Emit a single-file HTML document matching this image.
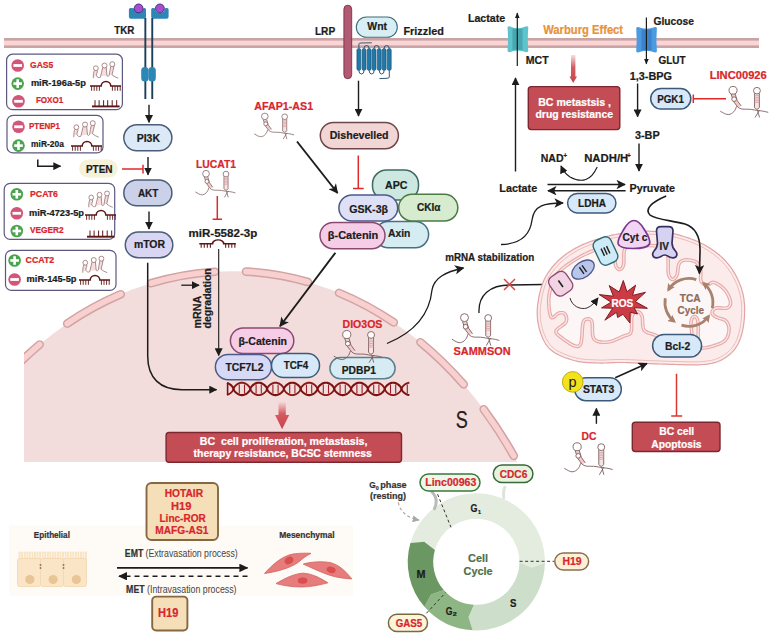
<!DOCTYPE html>
<html><head><meta charset="utf-8">
<style>
html,body{margin:0;padding:0;background:#fff;width:773px;height:636px;overflow:hidden}
svg{display:block}
text{white-space:pre;font-family:"Liberation Sans",sans-serif;font-weight:bold;fill:#1c1c1c;stroke:#1c1c1c;stroke-width:0.22px}
.r{fill:#d8262c;stroke:#d8262c}
.w{fill:#fff;stroke:#fff}
.n{font-weight:normal;stroke-width:0}
</style></head><body>
<svg width="773" height="636" viewBox="0 0 773 636">

<defs>
 <marker id="ah" viewBox="0 0 10 10" refX="9" refY="5" markerWidth="8" markerHeight="8" markerUnits="userSpaceOnUse" orient="auto">
  <path d="M0,0 L10,5 L0,10 Z" fill="#1c1c1c"/>
 </marker>
 <marker id="ah2" viewBox="0 0 10 10" refX="9" refY="5" markerWidth="10" markerHeight="9.5" markerUnits="userSpaceOnUse" orient="auto">
  <path d="M0,0 L10,5 L0,10 L2.5,5 Z" fill="#1c1c1c"/>
 </marker>
 <marker id="ah3" viewBox="0 0 10 10" refX="9" refY="5" markerWidth="9" markerHeight="8.5" markerUnits="userSpaceOnUse" orient="auto" preserveAspectRatio="none">
  <path d="M0,0 L10,5 L0,10 Z" fill="#1c1c1c"/>
 </marker>
 <marker id="ahg" viewBox="0 0 10 10" refX="9" refY="5" markerWidth="7" markerHeight="7" markerUnits="userSpaceOnUse" orient="auto">
  <path d="M0,0 L10,5 L0,10 Z" fill="#a8a8a8"/>
 </marker>
 <marker id="ahb" viewBox="0 0 10 10" refX="7" refY="5" markerWidth="8" markerHeight="8" markerUnits="userSpaceOnUse" orient="auto">
  <path d="M0,0 L10,5 L0,10 L2,5 Z" fill="#a8826c"/>
 </marker>
 <marker id="aht" viewBox="0 0 10 10" refX="9" refY="5" markerWidth="6" markerHeight="5" markerUnits="userSpaceOnUse" orient="auto" preserveAspectRatio="none">
  <path d="M0,0 L10,5 L0,10 Z" fill="#1c1c1c"/>
 </marker>
 <linearGradient id="rg" x1="0" y1="0" x2="0" y2="1">
  <stop offset="0" stop-color="#f6e0e0"/><stop offset="0.45" stop-color="#d45a60"/><stop offset="1" stop-color="#c8444c"/>
 </linearGradient>
 <symbol id="lnc" preserveAspectRatio="none" viewBox="0 0 50 33" overflow="visible">
  <g fill="none" stroke="#7a5a5a" stroke-width="0.9">
   <path d="M11.2,8.6 L14,17 L18.3,22.8 L21.6,21.4 L17.6,15.8 L15.4,8.4 Z" fill="#f2cccc" stroke="none"/>
   <path d="M0.3,27 C3,28.5 6,31 9,30.6 C13,30 16,26 16.8,21.8"/>
   <path d="M11.2,8.6 L14,17 L18.3,22.8"/>
   <path d="M15.4,8.4 L17.6,15.8 L21.6,21.4"/>
   <circle cx="13.3" cy="4.8" r="4.1" fill="#fff"/>
   <circle cx="14.4" cy="14.2" r="2.4" fill="#fff"/>
   <path d="M18.3,22.8 C21,25 23.5,25 27,24.9 C31,24.8 34,25.5 37.3,26.2"/>
   <path d="M35.2,8 V23 Q37.7,27.2 40.2,23 V8" fill="#f6e4e4"/>
   <path d="M35.2,10.5h5M35.2,12.3h5M35.2,14.1h5M35.2,15.9h5M35.2,17.7h5" stroke="#d49a9a" stroke-width="0.8"/>
   <circle cx="37.7" cy="5.2" r="3.5" fill="#fff"/>
   <path d="M37.3,26.2 C40,26.5 44,26.6 49.2,28.3"/>
   <path d="M35.8,33.7 L40.3,25.8 M40.4,33.7 L38.3,26.3"/>
  </g>
 </symbol>
 <symbol id="hp3" preserveAspectRatio="none" viewBox="0 0 26 17" overflow="visible">
  <path d="M1.9,9.3 L5.1,9.3 L4.2,14.8 L1,16 Z M8.6,15.5 L10.6,6.4 L14.3,6.3 L15,14.8 Z M17.4,14 L18.9,5.3 L22.3,4.9 L20.3,13.6 Z" fill="#f6dddd"/>
  <g fill="none" stroke="#8c6060" stroke-width="0.75">
   <circle cx="3.5" cy="7" r="2.5"/><circle cx="12.5" cy="4.2" r="2.6"/><circle cx="20.6" cy="2.8" r="2.6"/>
   <path d="M0.9,17.4 C0.6,14 1.2,11 1.9,9.3"/>
   <path d="M5.1,9.3 C5.5,11.5 3.5,13 4.2,14.8 C4.8,16.5 6.5,17.2 8.2,16.4 C9,13 9.8,9.5 10.6,6.4"/>
   <path d="M14.3,6.3 C14.5,9.5 14.8,12.5 15.1,15 C15.8,15.8 16.8,15.6 17.3,14.5 C17.8,11 18.4,8 18.9,5.3"/>
   <path d="M22.3,4.9 C21.8,8 21,11 20.2,13.8 C22,15.5 24.5,16.5 26.8,17.4"/>
  </g>
 </symbol>
 <symbol id="dup" preserveAspectRatio="none" viewBox="0 0 31 10" overflow="visible">
  <g stroke="#5c1616" fill="none">
   <path d="M0,5 H11.2 A4.8,4.6 0 0 1 20.8,5 H31" stroke-width="1.5"/>
   <path d="M1.6,5v4.8M4.2,5v4.8M6.8,5v4.8M9.4,5v4.8M22.4,5v4.8M25,5v4.8M27.6,5v4.8M30.2,5v4.8" stroke-width="0.9"/>
  </g>
 </symbol>
 <symbol id="comb" preserveAspectRatio="none" viewBox="0 0 28 7" overflow="visible">
  <g stroke="#5c1616">
   <path d="M0,6.2 H27.6" stroke-width="1.9"/>
   <path d="M3,0v6M7.1,0v6M11.6,0v6M15.7,0v6M20.2,0v6M24.7,0v6" stroke-width="1"/>
  </g>
 </symbol>
 <symbol id="minus" viewBox="-6.5 -6.5 13 13" overflow="visible">
  <circle r="6.3" fill="#d4557a"/><rect x="-4.3" y="-1.4" width="8.6" height="2.8" fill="#fff"/>
 </symbol>
 <symbol id="plus" viewBox="-6.5 -6.5 13 13" overflow="visible">
  <circle r="6.3" fill="#4aa44e"/><rect x="-4.3" y="-1.3" width="8.6" height="2.6" fill="#fff"/><rect x="-1.3" y="-4.3" width="2.6" height="8.6" fill="#fff"/>
 </symbol>
 <path id="caps" d="M18.9,363.4 A346.4,438.6 0 0 1 39.7,344.5 M67.2,323.6 A346.4,438.6 0 0 1 120.8,294.2 M151.0,283.2 A346.4,438.6 0 0 1 215.0,271.7 M246.0,271.6 A346.4,438.6 0 0 1 307.9,282.0 M339.0,292.9 A346.4,438.6 0 0 1 393.8,322.4 M420.4,342.2 A346.4,438.6 0 0 1 463.7,384.4 M483.7,409.3 A346.4,438.6 0 0 1 513.8,455.9"/>
 <clipPath id="nucclip"><rect x="24" y="0" width="760" height="462"/></clipPath>
</defs>

<!-- ================= NUCLEUS ================= -->
<g clip-path="url(#nucclip)">
 <ellipse cx="231.4" cy="709.8" rx="346.4" ry="438.6" fill="#f3dcdc"/>
 <g fill="none" stroke-linecap="round">
  <use href="#caps" stroke="#d2a3a3" stroke-width="8.6"/>
  <use href="#caps" stroke="#f8d0d0" stroke-width="5.6"/>
 </g>
</g>
<!-- ================= MEMBRANE ================= -->
<rect x="4" y="38" width="755" height="10" fill="#c9a4a4"/>
<rect x="4" y="40.6" width="755" height="4.8" fill="#fbd5d5"/>

<!-- ================= LEFT BOXES ================= -->
<g fill="#fff" stroke="#5c5880" stroke-width="1.2">
 <rect x="6.6" y="54.2" width="115.8" height="55.5" rx="6"/>
 <rect x="7" y="115.4" width="96" height="37.5" rx="6"/>
 <rect x="4.2" y="183.4" width="110.5" height="56" rx="6"/>
 <rect x="5.5" y="250.4" width="110.5" height="40" rx="6"/>
</g>
<use href="#minus" x="11.2" y="59" width="13" height="13"/>
<use href="#plus" x="11.2" y="77.1" width="13" height="13"/>
<use href="#minus" x="12" y="94.8" width="13" height="13"/>
<use href="#hp3" x="92.5" y="61.5" width="25" height="16.3"/>
<use href="#dup" x="90" y="81" width="31" height="10"/>
<use href="#comb" x="92" y="100.2" width="28" height="7"/>
<use href="#minus" x="12" y="120.3" width="13" height="13"/>
<use href="#plus" x="12" y="139.1" width="13" height="13"/>
<use href="#hp3" x="73" y="120.5" width="25" height="16.3"/>
<use href="#dup" x="71" y="141" width="31" height="10"/>
<use href="#plus" x="10.3" y="187.8" width="13" height="13"/>
<use href="#minus" x="10.3" y="206.8" width="13" height="13"/>
<use href="#plus" x="10.3" y="224.5" width="13" height="13"/>
<use href="#hp3" x="88" y="190.8" width="24" height="16.2"/>
<use href="#dup" x="85" y="210" width="31" height="10"/>
<use href="#comb" x="87" y="230.5" width="28" height="7"/>
<use href="#plus" x="8.1" y="254" width="13" height="13"/>
<use href="#minus" x="8.1" y="273" width="13" height="13"/>
<use href="#hp3" x="82" y="256" width="24.5" height="16.3"/>
<use href="#dup" x="79" y="275" width="31" height="10"/>

<!-- PTEN -->
<path d="M37.8,159.6 V166.2 H60.5" fill="none" stroke="#1c1c1c" stroke-width="1.5" marker-end="url(#ah)"/>
<rect x="79" y="159.6" width="38.7" height="18" rx="9" fill="#f6f2da"/>
<path d="M122,169 H143 M143,164.7 V173.5" stroke="#e02a2a" stroke-width="1.5" fill="none"/>

<!-- ================= TKR / PI3K ================= -->
<g fill="#2c86b6">
 <path d="M128.9,9.5 Q128.9,8 130.5,8 L133.8,8.2 A4.9,4.9 0 0 0 143.4,8.2 L144.6,8 Q146,8 146,9.5 V16.8 Q146,18.8 144,18.8 H130.9 Q128.9,18.8 128.9,16.8 Z"/>
 <path d="M151.2,9.5 Q151.2,8 152.6,8 L155,8.2 A4.9,4.9 0 0 0 164.8,8.2 L167,8 Q168.6,8 168.6,9.5 V16.8 Q168.6,18.8 166.6,18.8 H153.2 Q151.2,18.8 151.2,16.8 Z"/>
</g>
<circle cx="138.6" cy="8.4" r="4.4" fill="#a24fd2" stroke="#4a2466" stroke-width="0.9"/>
<circle cx="159.9" cy="8.4" r="4.4" fill="#a24fd2" stroke="#4a2466" stroke-width="0.9"/>
<rect x="144.4" y="18" width="1.9" height="81" fill="#1c3f5a"/>
<rect x="151.3" y="18" width="1.9" height="81" fill="#1c3f5a"/>
<rect x="141.2" y="66.9" width="7.4" height="14.5" rx="3.5" fill="#2c86b6"/>
<rect x="148.4" y="66.9" width="7.4" height="14.5" rx="3.5" fill="#2c86b6"/>
<path d="M149,104.7 V122.3" stroke="#1c1c1c" stroke-width="1.4" marker-end="url(#ah)"/>
<rect x="123.8" y="124.8" width="48.1" height="26" rx="13" fill="#dce9f7" stroke="#4b5d78" stroke-width="1.5"/>
<path d="M148,157 V174.7" stroke="#1c1c1c" stroke-width="1.4" marker-end="url(#ah)"/>
<rect x="123.8" y="180" width="48.1" height="25.8" rx="12.9" fill="#ccd1ea" stroke="#4b5d78" stroke-width="1.5"/>
<path d="M149,211.5 V229" stroke="#1c1c1c" stroke-width="1.4" marker-end="url(#ah)"/>
<rect x="125.3" y="232.1" width="47.5" height="25.6" rx="12.8" fill="#d8d6f3" stroke="#4b5d78" stroke-width="1.5"/>
<path d="M147.7,262.7 V356 C147.7,378 160,389.7 182,389.7 H216.5" fill="none" stroke="#1c1c1c" stroke-width="1.5" marker-end="url(#ah)"/>
<use href="#lnc" x="195.1" y="169.8" width="41" height="27"/>
<path d="M217.3,196 V219.3 M212.6,219.3 H222" stroke="#e02a2a" stroke-width="1.5" fill="none"/>
<use href="#dup" x="199.3" y="239.5" width="36.5" height="8.5"/>
<path d="M218.7,249 V355.5" stroke="#1c1c1c" stroke-width="1.1" marker-end="url(#ah)"/>
<path d="M181.3,285.2 H199" stroke="#1c1c1c" stroke-width="1.3" marker-end="url(#ah)"/>

<!-- ================= WNT ================= -->
<rect x="343.9" y="5.2" width="7.8" height="73.5" rx="3.9" fill="#b25a74" stroke="#7a3048" stroke-width="0.9"/>
<rect x="356.3" y="17" width="41" height="20.3" rx="10.1" fill="#d8eef5" stroke="#3d6b78" stroke-width="1.1"/>
<g fill="none" stroke="#1a4a6a" stroke-width="0.9"><path d="M358.9,70.5 Q358.9,74 361.5,74 Q364,74 364,70.5 M369.2,70.5 Q369.2,74 371.7,74 Q374.1,74 374.1,70.5 M379.3,70.5 Q379.3,74 381.7,74 Q384.1,74 384.1,70.5 M364,48.4 Q364,45.5 366.5,45.5 Q369.1,45.5 369.1,48.4 M374.1,48.4 Q374.1,45.5 376.6,45.5 Q379.2,45.5 379.2,48.4 M384.1,48.4 Q384.1,45.5 386.7,45.5 Q389.2,45.5 389.2,48.4 M358.9,48.4 V43.8 Q359,43 361,43 L371.8,42.8 M389.3,70.5 V77 Q389.3,78.2 387,78.3 L379.4,78.6"/></g>
<g fill="#1f79aa" stroke="#1a4a6a" stroke-width="0.6"><rect x="356.9" y="48.4" width="3.9" height="22.1" rx="1.95"/><rect x="362.1" y="48.4" width="3.9" height="22.1" rx="1.95"/><rect x="367.2" y="48.4" width="3.9" height="22.1" rx="1.95"/><rect x="372.1" y="48.4" width="3.9" height="22.1" rx="1.95"/><rect x="377.3" y="48.4" width="3.9" height="22.1" rx="1.95"/><rect x="382.2" y="48.4" width="3.9" height="22.1" rx="1.95"/><rect x="387.3" y="48.4" width="3.9" height="22.1" rx="1.95"/></g>
<path d="M358.5,80.7 V116" stroke="#1c1c1c" stroke-width="1.4" marker-end="url(#ah)"/>
<use href="#lnc" x="254" y="112.6" width="40.7" height="26"/>
<rect x="320.3" y="122.4" width="78.1" height="26.3" rx="13.1" fill="#f2d5d5" stroke="#6e4848" stroke-width="1.5"/>
<path d="M358.3,155.5 V188.5 M353,188.5 H363.7" stroke="#e02a2a" stroke-width="1.5" fill="none"/>
<path d="M297,141.5 L337.5,193" stroke="#1c1c1c" stroke-width="1.9" marker-end="url(#ah2)"/>
<rect x="372.5" y="170" width="46" height="30" rx="14" fill="#cde8e1" stroke="#3e6b60" stroke-width="1.5"/>
<rect x="375" y="221.5" width="53.6" height="26.2" rx="13.1" fill="#d6ecf3" stroke="#4a7080" stroke-width="1.5"/>
<rect x="398.7" y="194.3" width="59.1" height="26.7" rx="13.3" fill="#d7ecce" stroke="#4b7a45" stroke-width="1.5"/>
<rect x="338.9" y="195" width="58.8" height="26" rx="13" fill="#dee1f6" stroke="#4a5a8a" stroke-width="1.5"/>
<rect x="320" y="222.5" width="65" height="26.2" rx="13.1" fill="#f6cde6" stroke="#8a4a70" stroke-width="1.5"/>
<path d="M335.4,252.7 L280,326.3" stroke="#1c1c1c" stroke-width="1.9" marker-end="url(#ah2)"/>

<!-- ================= NUCLEAR ================= -->
<rect x="230.4" y="328.1" width="63.4" height="25.4" rx="12.7" fill="#f6cde6" stroke="#8a4a70" stroke-width="1.5"/>
<rect x="215.4" y="354.4" width="56.1" height="25.3" rx="12.6" fill="#d6d9f6" stroke="#4a5a8a" stroke-width="1.5"/>
<rect x="271.5" y="353.5" width="48" height="23.9" rx="11.9" fill="#d7e8f8" stroke="#3b5a7a" stroke-width="1.5"/>
<rect x="329.9" y="357.6" width="65.2" height="21.2" rx="10.6" fill="#d6ecf2" stroke="#5a8090" stroke-width="1.5"/>
<use href="#lnc" x="333.5" y="329.9" width="49.8" height="32"/>
<path d="M239.3,384.4V393.4M244.5,384.4V393.4M256.1,384.4V393.4M261.3,384.4V393.4M272.9,384.4V393.4M278.1,384.4V393.4M289.7,384.4V393.4M294.9,384.4V393.4M306.5,384.4V393.4M311.7,384.4V393.4M323.3,384.4V393.4M328.5,384.4V393.4M340.1,384.4V393.4M345.3,384.4V393.4M356.9,384.4V393.4M362.1,384.4V393.4M373.7,384.4V393.4M378.9,384.4V393.4M390.5,384.4V393.4M395.7,384.4V393.4M407.3,384.4V393.4" stroke="#9a2020" stroke-width="1.1"/>
<path d="M227.00,394.85 L227.35,394.74 L227.70,394.62 L228.05,394.49 L228.40,394.33 L228.75,394.16 L229.10,393.97 L229.45,393.76 L229.80,393.53 L230.15,393.28 L230.50,393.01 L230.85,392.72 L231.20,392.41 L231.55,392.07 L231.90,391.70 L232.25,391.30 L232.60,390.84 L232.95,390.31 L233.30,389.63 L233.65,388.29 L234.00,387.57 L234.35,387.03 L234.70,386.57 L235.05,386.15 L235.40,385.78 L235.75,385.44 L236.10,385.12 L236.45,384.83 L236.80,384.56 L237.15,384.30 L237.50,384.07 L237.85,383.86 L238.20,383.67 L238.55,383.49 L238.90,383.34 L239.25,383.20 L239.60,383.07 L239.95,382.97 L240.30,382.88 L240.65,382.81 L241.00,382.76 L241.35,382.72 L241.70,382.70 L242.05,382.70 L242.40,382.72 L242.75,382.75 L243.10,382.80 L243.45,382.87 L243.80,382.95 L244.15,383.06 L244.50,383.18 L244.85,383.31 L245.20,383.47 L245.55,383.64 L245.90,383.83 L246.25,384.04 L246.60,384.27 L246.95,384.52 L247.30,384.79 L247.65,385.08 L248.00,385.39 L248.35,385.73 L248.70,386.10 L249.05,386.50 L249.40,386.96 L249.75,387.49 L250.10,388.17 L250.45,389.51 L250.80,390.23 L251.15,390.77 L251.50,391.23 L251.85,391.65 L252.20,392.02 L252.55,392.36 L252.90,392.68 L253.25,392.97 L253.60,393.24 L253.95,393.50 L254.30,393.73 L254.65,393.94 L255.00,394.13 L255.35,394.31 L255.70,394.46 L256.05,394.60 L256.40,394.73 L256.75,394.83 L257.10,394.92 L257.45,394.99 L257.80,395.04 L258.15,395.08 L258.50,395.10 L258.85,395.10 L259.20,395.08 L259.55,395.05 L259.90,395.00 L260.25,394.93 L260.60,394.85 L260.95,394.74 L261.30,394.62 L261.65,394.49 L262.00,394.33 L262.35,394.16 L262.70,393.97 L263.05,393.76 L263.40,393.53 L263.75,393.28 L264.10,393.01 L264.45,392.72 L264.80,392.41 L265.15,392.07 L265.50,391.70 L265.85,391.30 L266.20,390.84 L266.55,390.31 L266.90,389.63 L267.25,388.29 L267.60,387.57 L267.95,387.03 L268.30,386.57 L268.65,386.15 L269.00,385.78 L269.35,385.44 L269.70,385.12 L270.05,384.83 L270.40,384.56 L270.75,384.30 L271.10,384.07 L271.45,383.86 L271.80,383.67 L272.15,383.49 L272.50,383.34 L272.85,383.20 L273.20,383.07 L273.55,382.97 L273.90,382.88 L274.25,382.81 L274.60,382.76 L274.95,382.72 L275.30,382.70 L275.65,382.70 L276.00,382.72 L276.35,382.75 L276.70,382.80 L277.05,382.87 L277.40,382.95 L277.75,383.06 L278.10,383.18 L278.45,383.31 L278.80,383.47 L279.15,383.64 L279.50,383.83 L279.85,384.04 L280.20,384.27 L280.55,384.52 L280.90,384.79 L281.25,385.08 L281.60,385.39 L281.95,385.73 L282.30,386.10 L282.65,386.50 L283.00,386.96 L283.35,387.49 L283.70,388.17 L284.05,389.51 L284.40,390.23 L284.75,390.77 L285.10,391.23 L285.45,391.65 L285.80,392.02 L286.15,392.36 L286.50,392.68 L286.85,392.97 L287.20,393.24 L287.55,393.50 L287.90,393.73 L288.25,393.94 L288.60,394.13 L288.95,394.31 L289.30,394.46 L289.65,394.60 L290.00,394.73 L290.35,394.83 L290.70,394.92 L291.05,394.99 L291.40,395.04 L291.75,395.08 L292.10,395.10 L292.45,395.10 L292.80,395.08 L293.15,395.05 L293.50,395.00 L293.85,394.93 L294.20,394.85 L294.55,394.74 L294.90,394.62 L295.25,394.49 L295.60,394.33 L295.95,394.16 L296.30,393.97 L296.65,393.76 L297.00,393.53 L297.35,393.28 L297.70,393.01 L298.05,392.72 L298.40,392.41 L298.75,392.07 L299.10,391.70 L299.45,391.30 L299.80,390.84 L300.15,390.31 L300.50,389.63 L300.85,388.29 L301.20,387.57 L301.55,387.03 L301.90,386.57 L302.25,386.15 L302.60,385.78 L302.95,385.44 L303.30,385.12 L303.65,384.83 L304.00,384.56 L304.35,384.30 L304.70,384.07 L305.05,383.86 L305.40,383.67 L305.75,383.49 L306.10,383.34 L306.45,383.20 L306.80,383.07 L307.15,382.97 L307.50,382.88 L307.85,382.81 L308.20,382.76 L308.55,382.72 L308.90,382.70 L309.25,382.70 L309.60,382.72 L309.95,382.75 L310.30,382.80 L310.65,382.87 L311.00,382.95 L311.35,383.06 L311.70,383.18 L312.05,383.31 L312.40,383.47 L312.75,383.64 L313.10,383.83 L313.45,384.04 L313.80,384.27 L314.15,384.52 L314.50,384.79 L314.85,385.08 L315.20,385.39 L315.55,385.73 L315.90,386.10 L316.25,386.50 L316.60,386.96 L316.95,387.49 L317.30,388.17 L317.65,389.51 L318.00,390.23 L318.35,390.77 L318.70,391.23 L319.05,391.65 L319.40,392.02 L319.75,392.36 L320.10,392.68 L320.45,392.97 L320.80,393.24 L321.15,393.50 L321.50,393.73 L321.85,393.94 L322.20,394.13 L322.55,394.31 L322.90,394.46 L323.25,394.60 L323.60,394.73 L323.95,394.83 L324.30,394.92 L324.65,394.99 L325.00,395.04 L325.35,395.08 L325.70,395.10 L326.05,395.10 L326.40,395.08 L326.75,395.05 L327.10,395.00 L327.45,394.93 L327.80,394.85 L328.15,394.74 L328.50,394.62 L328.85,394.49 L329.20,394.33 L329.55,394.16 L329.90,393.97 L330.25,393.76 L330.60,393.53 L330.95,393.28 L331.30,393.01 L331.65,392.72 L332.00,392.41 L332.35,392.07 L332.70,391.70 L333.05,391.30 L333.40,390.84 L333.75,390.31 L334.10,389.63 L334.45,388.29 L334.80,387.57 L335.15,387.03 L335.50,386.57 L335.85,386.15 L336.20,385.78 L336.55,385.44 L336.90,385.12 L337.25,384.83 L337.60,384.56 L337.95,384.30 L338.30,384.07 L338.65,383.86 L339.00,383.67 L339.35,383.49 L339.70,383.34 L340.05,383.20 L340.40,383.07 L340.75,382.97 L341.10,382.88 L341.45,382.81 L341.80,382.76 L342.15,382.72 L342.50,382.70 L342.85,382.70 L343.20,382.72 L343.55,382.75 L343.90,382.80 L344.25,382.87 L344.60,382.95 L344.95,383.06 L345.30,383.18 L345.65,383.31 L346.00,383.47 L346.35,383.64 L346.70,383.83 L347.05,384.04 L347.40,384.27 L347.75,384.52 L348.10,384.79 L348.45,385.08 L348.80,385.39 L349.15,385.73 L349.50,386.10 L349.85,386.50 L350.20,386.96 L350.55,387.49 L350.90,388.17 L351.25,389.51 L351.60,390.23 L351.95,390.77 L352.30,391.23 L352.65,391.65 L353.00,392.02 L353.35,392.36 L353.70,392.68 L354.05,392.97 L354.40,393.24 L354.75,393.50 L355.10,393.73 L355.45,393.94 L355.80,394.13 L356.15,394.31 L356.50,394.46 L356.85,394.60 L357.20,394.73 L357.55,394.83 L357.90,394.92 L358.25,394.99 L358.60,395.04 L358.95,395.08 L359.30,395.10 L359.65,395.10 L360.00,395.08 L360.35,395.05 L360.70,395.00 L361.05,394.93 L361.40,394.85 L361.75,394.74 L362.10,394.62 L362.45,394.49 L362.80,394.33 L363.15,394.16 L363.50,393.97 L363.85,393.76 L364.20,393.53 L364.55,393.28 L364.90,393.01 L365.25,392.72 L365.60,392.41 L365.95,392.07 L366.30,391.70 L366.65,391.30 L367.00,390.84 L367.35,390.31 L367.70,389.63 L368.05,388.29 L368.40,387.57 L368.75,387.03 L369.10,386.57 L369.45,386.15 L369.80,385.78 L370.15,385.44 L370.50,385.12 L370.85,384.83 L371.20,384.56 L371.55,384.30 L371.90,384.07 L372.25,383.86 L372.60,383.67 L372.95,383.49 L373.30,383.34 L373.65,383.20 L374.00,383.07 L374.35,382.97 L374.70,382.88 L375.05,382.81 L375.40,382.76 L375.75,382.72 L376.10,382.70 L376.45,382.70 L376.80,382.72 L377.15,382.75 L377.50,382.80 L377.85,382.87 L378.20,382.95 L378.55,383.06 L378.90,383.18 L379.25,383.31 L379.60,383.47 L379.95,383.64 L380.30,383.83 L380.65,384.04 L381.00,384.27 L381.35,384.52 L381.70,384.79 L382.05,385.08 L382.40,385.39 L382.75,385.73 L383.10,386.10 L383.45,386.50 L383.80,386.96 L384.15,387.49 L384.50,388.17 L384.85,389.51 L385.20,390.23 L385.55,390.77 L385.90,391.23 L386.25,391.65 L386.60,392.02 L386.95,392.36 L387.30,392.68 L387.65,392.97 L388.00,393.24 L388.35,393.50 L388.70,393.73 L389.05,393.94 L389.40,394.13 L389.75,394.31 L390.10,394.46 L390.45,394.60 L390.80,394.73 L391.15,394.83 L391.50,394.92 L391.85,394.99 L392.20,395.04 L392.55,395.08 L392.90,395.10 L393.25,395.10 L393.60,395.08 L393.95,395.05 L394.30,395.00 L394.65,394.93 L395.00,394.85 L395.35,394.74 L395.70,394.62 L396.05,394.49 L396.40,394.33 L396.75,394.16 L397.10,393.97 L397.45,393.76 L397.80,393.53 L398.15,393.28 L398.50,393.01 L398.85,392.72 L399.20,392.41 L399.55,392.07 L399.90,391.70 L400.25,391.30 L400.60,390.84 L400.95,390.31 L401.30,389.63 L401.65,388.29 L402.00,387.57 L402.35,387.03 L402.70,386.57 L403.05,386.15 L403.40,385.78 L403.75,385.44 L404.10,385.12 L404.45,384.83 L404.80,384.56 L405.15,384.30 L405.50,384.07 L405.85,383.86 L406.20,383.67 L406.55,383.49 L406.90,383.34 L407.25,383.20 L407.60,383.07 L407.95,382.97 L408.30,382.88 L408.65,382.81 L409.00,382.76 L409.35,382.72" fill="none" stroke="#8a1818" stroke-width="1.9"/>
<path d="M227.00,382.95 L227.35,383.06 L227.70,383.18 L228.05,383.31 L228.40,383.47 L228.75,383.64 L229.10,383.83 L229.45,384.04 L229.80,384.27 L230.15,384.52 L230.50,384.79 L230.85,385.08 L231.20,385.39 L231.55,385.73 L231.90,386.10 L232.25,386.50 L232.60,386.96 L232.95,387.49 L233.30,388.17 L233.65,389.51 L234.00,390.23 L234.35,390.77 L234.70,391.23 L235.05,391.65 L235.40,392.02 L235.75,392.36 L236.10,392.68 L236.45,392.97 L236.80,393.24 L237.15,393.50 L237.50,393.73 L237.85,393.94 L238.20,394.13 L238.55,394.31 L238.90,394.46 L239.25,394.60 L239.60,394.73 L239.95,394.83 L240.30,394.92 L240.65,394.99 L241.00,395.04 L241.35,395.08 L241.70,395.10 L242.05,395.10 L242.40,395.08 L242.75,395.05 L243.10,395.00 L243.45,394.93 L243.80,394.85 L244.15,394.74 L244.50,394.62 L244.85,394.49 L245.20,394.33 L245.55,394.16 L245.90,393.97 L246.25,393.76 L246.60,393.53 L246.95,393.28 L247.30,393.01 L247.65,392.72 L248.00,392.41 L248.35,392.07 L248.70,391.70 L249.05,391.30 L249.40,390.84 L249.75,390.31 L250.10,389.63 L250.45,388.29 L250.80,387.57 L251.15,387.03 L251.50,386.57 L251.85,386.15 L252.20,385.78 L252.55,385.44 L252.90,385.12 L253.25,384.83 L253.60,384.56 L253.95,384.30 L254.30,384.07 L254.65,383.86 L255.00,383.67 L255.35,383.49 L255.70,383.34 L256.05,383.20 L256.40,383.07 L256.75,382.97 L257.10,382.88 L257.45,382.81 L257.80,382.76 L258.15,382.72 L258.50,382.70 L258.85,382.70 L259.20,382.72 L259.55,382.75 L259.90,382.80 L260.25,382.87 L260.60,382.95 L260.95,383.06 L261.30,383.18 L261.65,383.31 L262.00,383.47 L262.35,383.64 L262.70,383.83 L263.05,384.04 L263.40,384.27 L263.75,384.52 L264.10,384.79 L264.45,385.08 L264.80,385.39 L265.15,385.73 L265.50,386.10 L265.85,386.50 L266.20,386.96 L266.55,387.49 L266.90,388.17 L267.25,389.51 L267.60,390.23 L267.95,390.77 L268.30,391.23 L268.65,391.65 L269.00,392.02 L269.35,392.36 L269.70,392.68 L270.05,392.97 L270.40,393.24 L270.75,393.50 L271.10,393.73 L271.45,393.94 L271.80,394.13 L272.15,394.31 L272.50,394.46 L272.85,394.60 L273.20,394.73 L273.55,394.83 L273.90,394.92 L274.25,394.99 L274.60,395.04 L274.95,395.08 L275.30,395.10 L275.65,395.10 L276.00,395.08 L276.35,395.05 L276.70,395.00 L277.05,394.93 L277.40,394.85 L277.75,394.74 L278.10,394.62 L278.45,394.49 L278.80,394.33 L279.15,394.16 L279.50,393.97 L279.85,393.76 L280.20,393.53 L280.55,393.28 L280.90,393.01 L281.25,392.72 L281.60,392.41 L281.95,392.07 L282.30,391.70 L282.65,391.30 L283.00,390.84 L283.35,390.31 L283.70,389.63 L284.05,388.29 L284.40,387.57 L284.75,387.03 L285.10,386.57 L285.45,386.15 L285.80,385.78 L286.15,385.44 L286.50,385.12 L286.85,384.83 L287.20,384.56 L287.55,384.30 L287.90,384.07 L288.25,383.86 L288.60,383.67 L288.95,383.49 L289.30,383.34 L289.65,383.20 L290.00,383.07 L290.35,382.97 L290.70,382.88 L291.05,382.81 L291.40,382.76 L291.75,382.72 L292.10,382.70 L292.45,382.70 L292.80,382.72 L293.15,382.75 L293.50,382.80 L293.85,382.87 L294.20,382.95 L294.55,383.06 L294.90,383.18 L295.25,383.31 L295.60,383.47 L295.95,383.64 L296.30,383.83 L296.65,384.04 L297.00,384.27 L297.35,384.52 L297.70,384.79 L298.05,385.08 L298.40,385.39 L298.75,385.73 L299.10,386.10 L299.45,386.50 L299.80,386.96 L300.15,387.49 L300.50,388.17 L300.85,389.51 L301.20,390.23 L301.55,390.77 L301.90,391.23 L302.25,391.65 L302.60,392.02 L302.95,392.36 L303.30,392.68 L303.65,392.97 L304.00,393.24 L304.35,393.50 L304.70,393.73 L305.05,393.94 L305.40,394.13 L305.75,394.31 L306.10,394.46 L306.45,394.60 L306.80,394.73 L307.15,394.83 L307.50,394.92 L307.85,394.99 L308.20,395.04 L308.55,395.08 L308.90,395.10 L309.25,395.10 L309.60,395.08 L309.95,395.05 L310.30,395.00 L310.65,394.93 L311.00,394.85 L311.35,394.74 L311.70,394.62 L312.05,394.49 L312.40,394.33 L312.75,394.16 L313.10,393.97 L313.45,393.76 L313.80,393.53 L314.15,393.28 L314.50,393.01 L314.85,392.72 L315.20,392.41 L315.55,392.07 L315.90,391.70 L316.25,391.30 L316.60,390.84 L316.95,390.31 L317.30,389.63 L317.65,388.29 L318.00,387.57 L318.35,387.03 L318.70,386.57 L319.05,386.15 L319.40,385.78 L319.75,385.44 L320.10,385.12 L320.45,384.83 L320.80,384.56 L321.15,384.30 L321.50,384.07 L321.85,383.86 L322.20,383.67 L322.55,383.49 L322.90,383.34 L323.25,383.20 L323.60,383.07 L323.95,382.97 L324.30,382.88 L324.65,382.81 L325.00,382.76 L325.35,382.72 L325.70,382.70 L326.05,382.70 L326.40,382.72 L326.75,382.75 L327.10,382.80 L327.45,382.87 L327.80,382.95 L328.15,383.06 L328.50,383.18 L328.85,383.31 L329.20,383.47 L329.55,383.64 L329.90,383.83 L330.25,384.04 L330.60,384.27 L330.95,384.52 L331.30,384.79 L331.65,385.08 L332.00,385.39 L332.35,385.73 L332.70,386.10 L333.05,386.50 L333.40,386.96 L333.75,387.49 L334.10,388.17 L334.45,389.51 L334.80,390.23 L335.15,390.77 L335.50,391.23 L335.85,391.65 L336.20,392.02 L336.55,392.36 L336.90,392.68 L337.25,392.97 L337.60,393.24 L337.95,393.50 L338.30,393.73 L338.65,393.94 L339.00,394.13 L339.35,394.31 L339.70,394.46 L340.05,394.60 L340.40,394.73 L340.75,394.83 L341.10,394.92 L341.45,394.99 L341.80,395.04 L342.15,395.08 L342.50,395.10 L342.85,395.10 L343.20,395.08 L343.55,395.05 L343.90,395.00 L344.25,394.93 L344.60,394.85 L344.95,394.74 L345.30,394.62 L345.65,394.49 L346.00,394.33 L346.35,394.16 L346.70,393.97 L347.05,393.76 L347.40,393.53 L347.75,393.28 L348.10,393.01 L348.45,392.72 L348.80,392.41 L349.15,392.07 L349.50,391.70 L349.85,391.30 L350.20,390.84 L350.55,390.31 L350.90,389.63 L351.25,388.29 L351.60,387.57 L351.95,387.03 L352.30,386.57 L352.65,386.15 L353.00,385.78 L353.35,385.44 L353.70,385.12 L354.05,384.83 L354.40,384.56 L354.75,384.30 L355.10,384.07 L355.45,383.86 L355.80,383.67 L356.15,383.49 L356.50,383.34 L356.85,383.20 L357.20,383.07 L357.55,382.97 L357.90,382.88 L358.25,382.81 L358.60,382.76 L358.95,382.72 L359.30,382.70 L359.65,382.70 L360.00,382.72 L360.35,382.75 L360.70,382.80 L361.05,382.87 L361.40,382.95 L361.75,383.06 L362.10,383.18 L362.45,383.31 L362.80,383.47 L363.15,383.64 L363.50,383.83 L363.85,384.04 L364.20,384.27 L364.55,384.52 L364.90,384.79 L365.25,385.08 L365.60,385.39 L365.95,385.73 L366.30,386.10 L366.65,386.50 L367.00,386.96 L367.35,387.49 L367.70,388.17 L368.05,389.51 L368.40,390.23 L368.75,390.77 L369.10,391.23 L369.45,391.65 L369.80,392.02 L370.15,392.36 L370.50,392.68 L370.85,392.97 L371.20,393.24 L371.55,393.50 L371.90,393.73 L372.25,393.94 L372.60,394.13 L372.95,394.31 L373.30,394.46 L373.65,394.60 L374.00,394.73 L374.35,394.83 L374.70,394.92 L375.05,394.99 L375.40,395.04 L375.75,395.08 L376.10,395.10 L376.45,395.10 L376.80,395.08 L377.15,395.05 L377.50,395.00 L377.85,394.93 L378.20,394.85 L378.55,394.74 L378.90,394.62 L379.25,394.49 L379.60,394.33 L379.95,394.16 L380.30,393.97 L380.65,393.76 L381.00,393.53 L381.35,393.28 L381.70,393.01 L382.05,392.72 L382.40,392.41 L382.75,392.07 L383.10,391.70 L383.45,391.30 L383.80,390.84 L384.15,390.31 L384.50,389.63 L384.85,388.29 L385.20,387.57 L385.55,387.03 L385.90,386.57 L386.25,386.15 L386.60,385.78 L386.95,385.44 L387.30,385.12 L387.65,384.83 L388.00,384.56 L388.35,384.30 L388.70,384.07 L389.05,383.86 L389.40,383.67 L389.75,383.49 L390.10,383.34 L390.45,383.20 L390.80,383.07 L391.15,382.97 L391.50,382.88 L391.85,382.81 L392.20,382.76 L392.55,382.72 L392.90,382.70 L393.25,382.70 L393.60,382.72 L393.95,382.75 L394.30,382.80 L394.65,382.87 L395.00,382.95 L395.35,383.06 L395.70,383.18 L396.05,383.31 L396.40,383.47 L396.75,383.64 L397.10,383.83 L397.45,384.04 L397.80,384.27 L398.15,384.52 L398.50,384.79 L398.85,385.08 L399.20,385.39 L399.55,385.73 L399.90,386.10 L400.25,386.50 L400.60,386.96 L400.95,387.49 L401.30,388.17 L401.65,389.51 L402.00,390.23 L402.35,390.77 L402.70,391.23 L403.05,391.65 L403.40,392.02 L403.75,392.36 L404.10,392.68 L404.45,392.97 L404.80,393.24 L405.15,393.50 L405.50,393.73 L405.85,393.94 L406.20,394.13 L406.55,394.31 L406.90,394.46 L407.25,394.60 L407.60,394.73 L407.95,394.83 L408.30,394.92 L408.65,394.99 L409.00,395.04 L409.35,395.08" fill="none" stroke="#7a1212" stroke-width="2.1"/>
<path d="M227.6,383 V395" stroke="#7a1212" stroke-width="1.6"/>
<path d="M278.5,401.3 H285.8 V415.1 H289.2 L282.1,429.3 L275.1,415.1 H278.5 Z" fill="url(#rg)"/>
<rect x="166.1" y="432.5" width="235.4" height="29.7" rx="3" fill="#c44d55" stroke="#7c2630" stroke-width="1.4"/>

<!-- ================= WARBURG ================= -->
<path d="M507.5,27.5 Q507.5,26.3 509.5,26.3 Q517.5,30 526.3,26.3 Q528.3,26.3 528.3,27.5 Q527.3,39 528.3,50.8 Q528.3,52.2 526.3,52.2 Q517.5,48.8 509.5,52.2 Q507.5,52.2 507.5,50.8 Q508.5,39 507.5,27.5 Z" fill="#5ec3cb"/>
<path d="M512.5,28.6 Q517.5,29.6 522.5,28.6 V50 Q517.5,49 512.5,50 Z" fill="#47a8b2"/>
<path d="M517.3,66 V13" stroke="#1c1c1c" stroke-width="1.2" marker-end="url(#aht)"/>
<path d="M571,55 H575.4 V76.4 H577 L573.2,83 L569.4,76.4 H571 Z" fill="url(#rg)"/>
<path d="M636.2,28.2 Q636.2,27 638.2,27 Q646.4,30.6 655,27 Q656.9,27 656.9,28.2 Q655.9,39.5 656.9,51.2 Q656.9,52.5 655,52.5 Q646.4,49 638.2,52.5 Q636.2,52.5 636.2,51.2 Q637.2,39.5 636.2,28.2 Z" fill="#4c9be0"/>
<path d="M641.5,29.2 Q646.4,30.3 651.5,29.2 V50.3 Q646.4,49.3 641.5,50.3 Z" fill="#3b83cc"/>
<path d="M646.4,17.6 V64" stroke="#1c1c1c" stroke-width="1.2" marker-end="url(#aht)"/>
<rect x="528.3" y="86.6" width="91.5" height="43" rx="3" fill="#c44d55" stroke="#7c2630" stroke-width="1.4"/>
<path d="M637.6,83.5 V116.6" stroke="#1c1c1c" stroke-width="1.4" marker-end="url(#ah)"/>
<rect x="650.7" y="88.4" width="40.1" height="20.6" rx="10.3" fill="#d7e8f8" stroke="#3b5a7a" stroke-width="1.5"/>
<path d="M726,98.7 H693.3 M693.3,94.4 V103" stroke="#e02a2a" stroke-width="1.5" fill="none"/>
<use href="#lnc" x="720" y="85.8" width="49" height="31"/>
<path d="M639,143.5 V171" stroke="#1c1c1c" stroke-width="1.4" marker-end="url(#ah)"/>
<path d="M515.5,171.5 V78" stroke="#1c1c1c" stroke-width="1.4" marker-end="url(#ah)"/>
<path d="M597.2,166.9 Q588,187 570,177 Q564,173 561,166" fill="none" stroke="#1c1c1c" stroke-width="1.1" marker-end="url(#ah)"/>
<path d="M547.5,184.5 H625" stroke="#1c1c1c" stroke-width="1.6" marker-end="url(#ah2)"/>
<path d="M625.6,190.7 H548" stroke="#1c1c1c" stroke-width="1.6" marker-end="url(#ah2)"/>
<rect x="567.6" y="193.4" width="48.3" height="19.5" rx="9.7" fill="#d7e8f8" stroke="#3b5a7a" stroke-width="1.5"/>
<path d="M501,244.5 C520,244 530,236 532,220 C534,205 545,203 563,203" fill="none" stroke="#1c1c1c" stroke-width="1.3" marker-end="url(#ah2)"/>
<path d="M387,343.5 C420,330 430,310 432,290 C434,278 445,272 463.5,268" fill="none" stroke="#1c1c1c" stroke-width="1.3" marker-end="url(#ah2)"/>
<path d="M479,313 C478,295 490,285 510,285 L543,284.5" fill="none" stroke="#1c1c1c" stroke-width="1.3"/>
<path d="M504,279 L515,290 M515,279 L504,290" stroke="#d84848" stroke-width="1.5"/>
<use href="#lnc" x="451.6" y="313" width="48.5" height="32"/>

<!-- ================= MITOCHONDRION ================= -->
<path d="M537.4,308.2 L537.5,306.4 L537.7,304.5 L538.0,302.6 L538.3,300.6 L538.6,298.6 L539.0,296.6 L539.4,294.6 L539.9,292.6 L540.4,290.6 L540.9,288.6 L541.5,286.7 L542.1,284.9 L542.7,283.1 L543.4,281.4 L544.1,279.8 L544.9,278.2 L545.7,276.7 L546.6,275.2 L547.5,273.7 L548.4,272.3 L549.4,270.9 L550.4,269.6 L551.4,268.2 L552.4,267.0 L553.5,265.7 L554.6,264.5 L555.7,263.3 L556.8,262.1 L557.9,261.0 L559.1,259.8 L560.3,258.8 L561.5,257.7 L562.7,256.7 L564.0,255.7 L565.2,254.8 L566.5,253.8 L567.8,252.9 L569.2,252.0 L570.5,251.2 L571.9,250.3 L573.2,249.5 L574.6,248.7 L576.0,247.9 L577.4,247.2 L578.8,246.4 L580.3,245.7 L581.7,245.1 L583.2,244.4 L584.7,243.8 L586.2,243.2 L587.7,242.6 L589.2,242.0 L590.8,241.4 L592.3,240.9 L593.9,240.3 L595.5,239.8 L597.1,239.3 L598.7,238.8 L600.3,238.3 L601.9,237.8 L603.5,237.3 L605.2,236.8 L606.8,236.4 L608.5,236.0 L610.2,235.6 L612.0,235.2 L613.8,234.8 L615.6,234.5 L617.4,234.1 L619.3,233.8 L621.2,233.5 L623.2,233.2 L625.3,232.9 L627.3,232.6 L629.4,232.3 L631.6,232.1 L633.7,231.9 L635.9,231.7 L638.1,231.5 L640.3,231.4 L642.5,231.3 L644.7,231.2 L646.8,231.2 L649.0,231.2 L651.2,231.3 L653.3,231.4 L655.5,231.5 L657.7,231.6 L659.9,231.8 L662.1,232.0 L664.3,232.3 L666.5,232.6 L668.6,232.9 L670.8,233.3 L673.0,233.7 L675.2,234.1 L677.4,234.6 L679.5,235.2 L681.7,235.8 L683.8,236.5 L686.0,237.2 L688.2,237.9 L690.4,238.7 L692.6,239.5 L694.8,240.4 L697.0,241.3 L699.1,242.2 L701.2,243.2 L703.2,244.2 L705.2,245.3 L707.1,246.4 L709.0,247.5 L710.8,248.7 L712.6,249.9 L714.3,251.1 L716.0,252.4 L717.7,253.7 L719.3,255.0 L720.8,256.4 L722.4,257.8 L723.8,259.3 L725.3,260.7 L726.7,262.3 L728.0,263.8 L729.3,265.4 L730.5,267.0 L731.7,268.7 L732.8,270.4 L733.9,272.1 L735.0,273.9 L736.0,275.8 L736.9,277.6 L737.9,279.5 L738.7,281.4 L739.5,283.4 L740.3,285.3 L741.0,287.2 L741.6,289.2 L742.2,291.1 L742.7,293.0 L743.2,294.9 L743.5,296.8 L743.9,298.8 L744.1,300.7 L744.3,302.7 L744.5,304.7 L744.6,306.6 L744.7,308.6 L744.7,310.5 L744.6,312.5 L744.6,314.4 L744.5,316.3 L744.4,318.2 L744.2,320.0 L744.0,321.8 L743.8,323.7 L743.5,325.5 L743.2,327.4 L742.9,329.2 L742.5,331.0 L742.1,332.8 L741.6,334.5 L741.1,336.3 L740.6,337.9 L740.0,339.5 L739.4,341.1 L738.7,342.6 L738.0,344.0 L737.3,345.3 L736.5,346.6 L735.6,347.9 L734.8,349.1 L733.9,350.2 L732.9,351.3 L731.9,352.4 L730.9,353.4 L729.8,354.3 L728.7,355.3 L727.6,356.1 L726.4,357.0 L725.2,357.7 L724.0,358.5 L722.8,359.2 L721.6,359.9 L720.4,360.5 L719.2,361.0 L717.9,361.5 L716.6,362.0 L715.3,362.4 L713.9,362.8 L712.4,363.2 L710.8,363.5 L709.1,363.8 L707.2,364.1 L705.2,364.3 L703.0,364.5 L700.6,364.7 L698.0,364.8 L695.2,364.8 L692.2,364.9 L689.1,364.8 L685.8,364.8 L682.6,364.7 L679.2,364.6 L675.9,364.5 L672.6,364.4 L669.3,364.3 L666.1,364.2 L663.0,364.1 L660.0,364.0 L657.1,363.9 L654.2,363.8 L651.3,363.7 L648.4,363.6 L645.5,363.5 L642.6,363.3 L639.8,363.2 L637.0,363.1 L634.3,362.9 L631.7,362.8 L629.1,362.7 L626.7,362.6 L624.3,362.5 L622.0,362.5 L619.9,362.5 L617.8,362.5 L615.9,362.5 L614.1,362.6 L612.4,362.7 L610.7,362.7 L609.1,362.8 L607.6,362.9 L606.0,363.0 L604.4,363.0 L602.9,363.1 L601.3,363.1 L599.7,363.1 L598.0,363.0 L596.3,362.9 L594.6,362.9 L592.8,362.8 L591.1,362.7 L589.4,362.7 L587.7,362.6 L585.9,362.4 L584.2,362.3 L582.5,362.1 L580.8,361.9 L579.1,361.6 L577.4,361.3 L575.7,360.9 L574.0,360.5 L572.3,360.0 L570.6,359.5 L568.8,358.9 L567.0,358.3 L565.2,357.7 L563.4,357.0 L561.7,356.3 L560.0,355.5 L558.3,354.7 L556.7,353.9 L555.1,353.0 L553.6,352.0 L552.3,351.0 L551.0,350.0 L549.8,348.9 L548.7,347.8 L547.7,346.6 L546.7,345.3 L545.8,344.0 L545.0,342.7 L544.2,341.3 L543.5,339.9 L542.8,338.4 L542.2,337.0 L541.6,335.5 L541.0,334.0 L540.5,332.5 L540.0,331.0 L539.5,329.5 L539.1,328.0 L538.7,326.4 L538.4,324.9 L538.1,323.3 L537.8,321.7 L537.6,320.1 L537.5,318.5 L537.3,316.8 L537.3,315.1 L537.2,313.4 L537.2,311.7 L537.3,310.0 Z" fill="#fcebeb" stroke="#e2a4a4" stroke-width="1.2"/>
<path d="M540.4,308.4 L540.5,306.7 L540.7,304.9 L541.0,303.0 L541.2,301.1 L541.6,299.1 L541.9,297.2 L542.3,295.2 L542.8,293.3 L543.3,291.3 L543.8,289.5 L544.3,287.6 L544.9,285.9 L545.5,284.2 L546.2,282.6 L546.8,281.0 L547.6,279.6 L548.3,278.1 L549.1,276.7 L550.0,275.3 L550.9,274.0 L551.8,272.7 L552.7,271.4 L553.7,270.1 L554.7,268.9 L555.8,267.7 L556.8,266.5 L557.9,265.3 L559.0,264.2 L560.0,263.1 L561.1,262.0 L562.3,261.0 L563.4,260.0 L564.6,259.0 L565.8,258.1 L567.0,257.2 L568.3,256.3 L569.5,255.4 L570.8,254.5 L572.1,253.7 L573.4,252.9 L574.8,252.1 L576.1,251.3 L577.4,250.5 L578.8,249.8 L580.2,249.1 L581.5,248.5 L583.0,247.8 L584.4,247.2 L585.8,246.6 L587.3,246.0 L588.8,245.4 L590.3,244.8 L591.8,244.3 L593.3,243.7 L594.9,243.2 L596.4,242.6 L598.0,242.1 L599.6,241.6 L601.2,241.1 L602.8,240.7 L604.4,240.2 L606.0,239.7 L607.6,239.3 L609.2,238.9 L610.9,238.5 L612.6,238.1 L614.4,237.7 L616.1,237.4 L617.9,237.1 L619.8,236.8 L621.7,236.5 L623.7,236.2 L625.7,235.9 L627.7,235.6 L629.8,235.3 L631.9,235.1 L634.0,234.9 L636.2,234.7 L638.3,234.5 L640.4,234.4 L642.6,234.3 L644.7,234.2 L646.8,234.2 L648.9,234.2 L651.1,234.3 L653.2,234.3 L655.3,234.5 L657.5,234.6 L659.6,234.8 L661.8,235.0 L663.9,235.2 L666.0,235.5 L668.2,235.9 L670.3,236.2 L672.4,236.6 L674.5,237.1 L676.6,237.6 L678.7,238.1 L680.8,238.7 L683.0,239.3 L685.1,240.0 L687.3,240.7 L689.4,241.5 L691.5,242.3 L693.7,243.2 L695.8,244.0 L697.8,245.0 L699.9,245.9 L701.9,246.9 L703.8,247.9 L705.6,249.0 L707.4,250.0 L709.2,251.2 L710.9,252.3 L712.5,253.5 L714.2,254.7 L715.8,256.0 L717.3,257.3 L718.8,258.6 L720.3,260.0 L721.7,261.4 L723.1,262.8 L724.4,264.3 L725.7,265.7 L726.9,267.2 L728.1,268.8 L729.2,270.4 L730.3,272.0 L731.4,273.7 L732.4,275.4 L733.3,277.2 L734.3,279.0 L735.1,280.8 L736.0,282.6 L736.7,284.5 L737.5,286.4 L738.1,288.2 L738.7,290.1 L739.3,291.9 L739.8,293.7 L740.2,295.5 L740.6,297.4 L740.9,299.2 L741.2,301.1 L741.4,303.0 L741.5,304.9 L741.6,306.7 L741.7,308.6 L741.7,310.5 L741.6,312.4 L741.6,314.3 L741.5,316.1 L741.4,317.9 L741.2,319.7 L741.0,321.5 L740.8,323.3 L740.6,325.1 L740.3,326.8 L739.9,328.6 L739.6,330.3 L739.2,332.1 L738.7,333.7 L738.2,335.4 L737.7,337.0 L737.2,338.5 L736.6,339.9 L736.0,341.3 L735.3,342.6 L734.7,343.8 L733.9,345.0 L733.2,346.2 L732.4,347.3 L731.6,348.3 L730.7,349.3 L729.8,350.3 L728.8,351.2 L727.9,352.1 L726.9,352.9 L725.8,353.7 L724.7,354.5 L723.6,355.2 L722.5,355.9 L721.3,356.6 L720.2,357.2 L719.1,357.8 L717.9,358.3 L716.8,358.7 L715.7,359.2 L714.4,359.6 L713.2,359.9 L711.8,360.3 L710.3,360.6 L708.6,360.8 L706.8,361.1 L704.9,361.3 L702.8,361.5 L700.4,361.7 L697.9,361.8 L695.1,361.8 L692.2,361.9 L689.1,361.8 L685.9,361.8 L682.6,361.7 L679.3,361.6 L676.0,361.5 L672.7,361.4 L669.4,361.3 L666.2,361.2 L663.1,361.1 L660.1,361.0 L657.2,360.9 L654.3,360.8 L651.4,360.7 L648.5,360.6 L645.6,360.5 L642.8,360.3 L640.0,360.2 L637.2,360.1 L634.5,359.9 L631.8,359.8 L629.2,359.7 L626.7,359.6 L624.3,359.5 L622.0,359.5 L619.9,359.5 L617.8,359.5 L615.9,359.5 L614.0,359.6 L612.3,359.7 L610.6,359.7 L609.0,359.8 L607.4,359.9 L605.9,360.0 L604.4,360.0 L602.8,360.1 L601.3,360.1 L599.7,360.1 L598.1,360.0 L596.4,359.9 L594.7,359.9 L593.0,359.8 L591.2,359.7 L589.5,359.7 L587.9,359.6 L586.2,359.4 L584.5,359.3 L582.8,359.1 L581.2,358.9 L579.6,358.7 L578.0,358.4 L576.4,358.0 L574.8,357.6 L573.1,357.1 L571.4,356.6 L569.7,356.1 L568.0,355.5 L566.3,354.9 L564.6,354.2 L562.9,353.5 L561.2,352.8 L559.6,352.0 L558.1,351.2 L556.7,350.4 L555.3,349.5 L554.1,348.6 L553.0,347.7 L551.9,346.8 L551.0,345.8 L550.0,344.7 L549.2,343.5 L548.4,342.4 L547.6,341.1 L546.9,339.8 L546.2,338.5 L545.5,337.2 L544.9,335.8 L544.4,334.4 L543.8,333.0 L543.3,331.5 L542.9,330.1 L542.4,328.7 L542.0,327.2 L541.7,325.8 L541.3,324.3 L541.1,322.8 L540.8,321.3 L540.6,319.7 L540.5,318.2 L540.3,316.6 L540.3,315.0 L540.2,313.4 L540.2,311.8 L540.3,310.1 Z" fill="none" stroke="#e9b6b6" stroke-width="0.9"/>
<path d="M549.0,296.0 L549.6,292.5 L550.4,289.0 L551.5,285.5 L552.8,282.1 L554.3,278.9 L556.0,276.0 L557.9,273.4 L559.9,271.1 L562.2,268.9 L564.6,266.9 L567.2,265.0 L570.0,263.0 L573.0,261.0 L576.3,259.0 L579.7,257.0 L583.2,255.2 L586.7,253.5 L590.0,252.0 L593.4,250.6 L596.9,249.4 L600.4,248.3 L603.7,247.4 L606.6,246.8 L609.0,246.5 L610.8,246.6 L612.0,246.9 L612.9,247.5 L613.5,248.4 L614.0,249.6 L614.5,251.0 L614.9,252.9 L615.1,255.3 L615.1,258.0 L615.1,260.7 L615.2,263.1 L615.5,265.0 L616.0,266.4 L616.6,267.5 L617.3,268.4 L618.1,269.0 L618.8,269.4 L619.5,269.5 L620.2,269.4 L620.9,269.1 L621.7,268.5 L622.4,267.6 L623.0,266.5 L623.5,265.0 L623.8,263.0 L623.9,260.4 L623.8,257.5 L623.9,254.6 L624.0,252.0 L624.5,250.0 L625.1,248.7 L625.8,247.7 L626.6,247.1 L627.7,246.7 L629.1,246.3 L631.0,246.0 L633.5,245.7 L636.5,245.5 L639.9,245.3 L643.5,245.3 L646.9,245.4 L650.0,245.5 L652.9,245.7 L655.9,245.8 L658.8,246.1 L661.4,246.5 L663.7,247.1 L665.5,248.0 L666.7,249.2 L667.4,250.6 L667.7,252.2 L667.8,253.9 L667.8,255.9 L668.0,258.0 L668.2,260.4 L668.2,263.3 L668.2,266.3 L668.1,269.2 L668.2,271.9 L668.5,274.0 L669.0,275.6 L669.6,277.0 L670.2,278.0 L671.0,278.8 L671.8,279.3 L672.5,279.5 L673.2,279.4 L674.1,279.0 L674.9,278.3 L675.7,277.4 L676.4,276.2 L677.0,275.0 L677.4,273.5 L677.7,271.6 L677.9,269.5 L678.1,267.4 L678.5,265.5 L679.0,264.0 L679.7,262.9 L680.5,261.9 L681.4,261.2 L682.5,260.6 L683.7,260.2 L685.0,260.0 L686.6,259.9 L688.5,260.0 L690.6,260.2 L692.6,260.7 L694.5,261.2 L696.0,262.0 L697.2,263.0 L698.1,264.1 L698.9,265.4 L699.5,266.9 L700.1,268.4 L700.5,270.0 L700.8,271.7 L700.8,273.7 L700.7,275.8 L700.6,277.7 L700.6,279.5 L701.0,281.0 L701.7,282.1 L702.6,283.1 L703.6,283.8 L704.7,284.4 L705.9,284.8 L707.0,285.0 L708.1,284.8 L709.1,284.3 L710.2,283.5 L711.3,282.8 L712.6,282.4 L714.0,282.5 L715.7,283.1 L717.6,284.1 L719.6,285.3 L721.6,286.8 L723.4,288.4 L725.0,290.0 L726.3,291.8 L727.6,293.9 L728.7,296.1 L729.5,298.3 L730.2,300.3 L730.5,302.0 L730.5,303.4 L730.3,304.7 L729.8,305.8 L729.1,306.7 L728.1,307.4 L727.0,308.0 L725.5,308.3 L723.6,308.3 L721.5,308.1 L719.4,307.9 L717.5,307.8 L716.0,308.0 L714.8,308.5 L713.9,309.2 L713.1,310.0 L712.5,310.8 L712.1,311.7 L712.0,312.5 L712.1,313.3 L712.5,314.0 L713.1,314.8 L713.9,315.5 L714.9,316.3 L716.0,317.0 L717.4,317.6 L719.1,318.2 L721.1,318.7 L723.0,319.3 L724.7,320.0 L726.0,321.0 L727.0,322.2 L727.8,323.6 L728.4,325.1 L728.8,326.7 L729.0,328.4 L729.0,330.0 L728.8,331.7 L728.5,333.6 L727.9,335.5 L727.2,337.3 L726.2,339.0 L725.0,340.5 L723.5,341.7 L721.6,342.8 L719.4,343.8 L717.2,344.6 L715.0,345.3 L713.0,346.0 L711.0,346.6 L709.0,347.1 L707.0,347.5 L705.1,347.8 L703.4,348.0 L702.0,348.0 L700.9,348.0 L700.2,348.1 L699.6,348.1 L699.2,347.7 L698.8,346.7 L698.5,345.0 L698.3,342.1 L698.2,338.2 L698.2,333.7 L698.3,329.1 L698.2,325.1 L698.0,322.0 L697.6,319.9 L697.1,318.5 L696.4,317.5 L695.8,316.9 L695.1,316.6 L694.5,316.5 L693.9,316.6 L693.2,316.9 L692.6,317.6 L691.9,318.6 L691.4,320.1 L691.0,322.0 L691.0,324.9 L691.4,328.7 L691.8,333.0 L692.0,337.1 L691.7,340.7 L690.5,343.0 L688.2,344.0 L684.9,344.2 L681.2,343.7 L677.2,342.8 L673.3,341.8 L670.0,341.0 L667.1,340.2 L664.4,339.3 L661.9,338.2 L659.5,337.1 L657.2,336.0 L655.0,335.0 L652.8,334.2 L650.7,333.6 L648.7,333.0 L646.9,332.3 L645.3,331.3 L644.0,330.0 L643.2,328.1 L642.8,325.6 L642.6,323.0 L642.6,320.3 L642.4,317.9 L642.0,316.0 L641.3,314.6 L640.6,313.5 L639.7,312.6 L638.8,312.0 L637.9,311.6 L637.0,311.5 L636.1,311.6 L635.2,311.9 L634.2,312.5 L633.4,313.3 L632.6,314.5 L632.0,316.0 L631.7,318.1 L631.6,320.9 L631.6,324.0 L631.6,327.1 L631.5,329.9 L631.0,332.0 L630.3,333.3 L629.4,334.1 L628.4,334.6 L627.2,335.0 L625.8,335.4 L624.0,336.0 L621.8,337.0 L619.3,338.2 L616.4,339.4 L613.5,340.6 L610.7,341.5 L608.0,342.0 L605.4,342.2 L602.7,342.2 L600.1,341.9 L597.7,341.4 L595.6,340.4 L594.0,339.0 L593.0,336.8 L592.5,333.9 L592.4,330.5 L592.4,327.1 L592.3,324.2 L592.0,322.0 L591.4,320.6 L590.7,319.7 L589.9,319.2 L589.1,319.0 L588.3,318.9 L587.5,319.0 L586.7,319.1 L585.9,319.2 L585.1,319.6 L584.3,320.2 L583.6,321.3 L583.0,323.0 L582.6,325.6 L582.3,329.1 L582.1,333.1 L581.9,337.0 L581.5,340.5 L581.0,343.0 L580.3,344.6 L579.6,345.7 L578.7,346.2 L577.7,346.4 L576.5,346.3 L575.0,346.0 L573.2,345.3 L570.9,344.1 L568.5,342.6 L566.1,341.0 L563.8,339.4 L562.0,338.0 L560.4,336.8 L558.9,335.7 L557.6,334.6 L556.6,333.4 L556.0,332.3 L556.0,331.0 L556.9,329.6 L558.6,328.1 L560.7,326.6 L562.9,325.0 L564.8,323.5 L566.0,322.0 L566.5,320.5 L566.7,319.0 L566.5,317.5 L566.1,316.1 L565.6,314.9 L565.0,314.0 L564.3,313.4 L563.4,313.0 L562.4,312.8 L561.3,312.7 L560.2,312.8 L559.0,313.0 L557.7,313.7 L556.3,314.9 L554.8,316.2 L553.3,317.3 L552.0,317.7 L551.0,317.0 L550.2,314.9 L549.6,311.8 L549.1,308.0 L548.8,303.9 L548.7,299.7 Z" fill="#fdf6f6" stroke="#e6a9a9" stroke-width="3.6" stroke-linejoin="round"/>
<path d="M549.0,296.0 L549.6,292.5 L550.4,289.0 L551.5,285.5 L552.8,282.1 L554.3,278.9 L556.0,276.0 L557.9,273.4 L559.9,271.1 L562.2,268.9 L564.6,266.9 L567.2,265.0 L570.0,263.0 L573.0,261.0 L576.3,259.0 L579.7,257.0 L583.2,255.2 L586.7,253.5 L590.0,252.0 L593.4,250.6 L596.9,249.4 L600.4,248.3 L603.7,247.4 L606.6,246.8 L609.0,246.5 L610.8,246.6 L612.0,246.9 L612.9,247.5 L613.5,248.4 L614.0,249.6 L614.5,251.0 L614.9,252.9 L615.1,255.3 L615.1,258.0 L615.1,260.7 L615.2,263.1 L615.5,265.0 L616.0,266.4 L616.6,267.5 L617.3,268.4 L618.1,269.0 L618.8,269.4 L619.5,269.5 L620.2,269.4 L620.9,269.1 L621.7,268.5 L622.4,267.6 L623.0,266.5 L623.5,265.0 L623.8,263.0 L623.9,260.4 L623.8,257.5 L623.9,254.6 L624.0,252.0 L624.5,250.0 L625.1,248.7 L625.8,247.7 L626.6,247.1 L627.7,246.7 L629.1,246.3 L631.0,246.0 L633.5,245.7 L636.5,245.5 L639.9,245.3 L643.5,245.3 L646.9,245.4 L650.0,245.5 L652.9,245.7 L655.9,245.8 L658.8,246.1 L661.4,246.5 L663.7,247.1 L665.5,248.0 L666.7,249.2 L667.4,250.6 L667.7,252.2 L667.8,253.9 L667.8,255.9 L668.0,258.0 L668.2,260.4 L668.2,263.3 L668.2,266.3 L668.1,269.2 L668.2,271.9 L668.5,274.0 L669.0,275.6 L669.6,277.0 L670.2,278.0 L671.0,278.8 L671.8,279.3 L672.5,279.5 L673.2,279.4 L674.1,279.0 L674.9,278.3 L675.7,277.4 L676.4,276.2 L677.0,275.0 L677.4,273.5 L677.7,271.6 L677.9,269.5 L678.1,267.4 L678.5,265.5 L679.0,264.0 L679.7,262.9 L680.5,261.9 L681.4,261.2 L682.5,260.6 L683.7,260.2 L685.0,260.0 L686.6,259.9 L688.5,260.0 L690.6,260.2 L692.6,260.7 L694.5,261.2 L696.0,262.0 L697.2,263.0 L698.1,264.1 L698.9,265.4 L699.5,266.9 L700.1,268.4 L700.5,270.0 L700.8,271.7 L700.8,273.7 L700.7,275.8 L700.6,277.7 L700.6,279.5 L701.0,281.0 L701.7,282.1 L702.6,283.1 L703.6,283.8 L704.7,284.4 L705.9,284.8 L707.0,285.0 L708.1,284.8 L709.1,284.3 L710.2,283.5 L711.3,282.8 L712.6,282.4 L714.0,282.5 L715.7,283.1 L717.6,284.1 L719.6,285.3 L721.6,286.8 L723.4,288.4 L725.0,290.0 L726.3,291.8 L727.6,293.9 L728.7,296.1 L729.5,298.3 L730.2,300.3 L730.5,302.0 L730.5,303.4 L730.3,304.7 L729.8,305.8 L729.1,306.7 L728.1,307.4 L727.0,308.0 L725.5,308.3 L723.6,308.3 L721.5,308.1 L719.4,307.9 L717.5,307.8 L716.0,308.0 L714.8,308.5 L713.9,309.2 L713.1,310.0 L712.5,310.8 L712.1,311.7 L712.0,312.5 L712.1,313.3 L712.5,314.0 L713.1,314.8 L713.9,315.5 L714.9,316.3 L716.0,317.0 L717.4,317.6 L719.1,318.2 L721.1,318.7 L723.0,319.3 L724.7,320.0 L726.0,321.0 L727.0,322.2 L727.8,323.6 L728.4,325.1 L728.8,326.7 L729.0,328.4 L729.0,330.0 L728.8,331.7 L728.5,333.6 L727.9,335.5 L727.2,337.3 L726.2,339.0 L725.0,340.5 L723.5,341.7 L721.6,342.8 L719.4,343.8 L717.2,344.6 L715.0,345.3 L713.0,346.0 L711.0,346.6 L709.0,347.1 L707.0,347.5 L705.1,347.8 L703.4,348.0 L702.0,348.0 L700.9,348.0 L700.2,348.1 L699.6,348.1 L699.2,347.7 L698.8,346.7 L698.5,345.0 L698.3,342.1 L698.2,338.2 L698.2,333.7 L698.3,329.1 L698.2,325.1 L698.0,322.0 L697.6,319.9 L697.1,318.5 L696.4,317.5 L695.8,316.9 L695.1,316.6 L694.5,316.5 L693.9,316.6 L693.2,316.9 L692.6,317.6 L691.9,318.6 L691.4,320.1 L691.0,322.0 L691.0,324.9 L691.4,328.7 L691.8,333.0 L692.0,337.1 L691.7,340.7 L690.5,343.0 L688.2,344.0 L684.9,344.2 L681.2,343.7 L677.2,342.8 L673.3,341.8 L670.0,341.0 L667.1,340.2 L664.4,339.3 L661.9,338.2 L659.5,337.1 L657.2,336.0 L655.0,335.0 L652.8,334.2 L650.7,333.6 L648.7,333.0 L646.9,332.3 L645.3,331.3 L644.0,330.0 L643.2,328.1 L642.8,325.6 L642.6,323.0 L642.6,320.3 L642.4,317.9 L642.0,316.0 L641.3,314.6 L640.6,313.5 L639.7,312.6 L638.8,312.0 L637.9,311.6 L637.0,311.5 L636.1,311.6 L635.2,311.9 L634.2,312.5 L633.4,313.3 L632.6,314.5 L632.0,316.0 L631.7,318.1 L631.6,320.9 L631.6,324.0 L631.6,327.1 L631.5,329.9 L631.0,332.0 L630.3,333.3 L629.4,334.1 L628.4,334.6 L627.2,335.0 L625.8,335.4 L624.0,336.0 L621.8,337.0 L619.3,338.2 L616.4,339.4 L613.5,340.6 L610.7,341.5 L608.0,342.0 L605.4,342.2 L602.7,342.2 L600.1,341.9 L597.7,341.4 L595.6,340.4 L594.0,339.0 L593.0,336.8 L592.5,333.9 L592.4,330.5 L592.4,327.1 L592.3,324.2 L592.0,322.0 L591.4,320.6 L590.7,319.7 L589.9,319.2 L589.1,319.0 L588.3,318.9 L587.5,319.0 L586.7,319.1 L585.9,319.2 L585.1,319.6 L584.3,320.2 L583.6,321.3 L583.0,323.0 L582.6,325.6 L582.3,329.1 L582.1,333.1 L581.9,337.0 L581.5,340.5 L581.0,343.0 L580.3,344.6 L579.6,345.7 L578.7,346.2 L577.7,346.4 L576.5,346.3 L575.0,346.0 L573.2,345.3 L570.9,344.1 L568.5,342.6 L566.1,341.0 L563.8,339.4 L562.0,338.0 L560.4,336.8 L558.9,335.7 L557.6,334.6 L556.6,333.4 L556.0,332.3 L556.0,331.0 L556.9,329.6 L558.6,328.1 L560.7,326.6 L562.9,325.0 L564.8,323.5 L566.0,322.0 L566.5,320.5 L566.7,319.0 L566.5,317.5 L566.1,316.1 L565.6,314.9 L565.0,314.0 L564.3,313.4 L563.4,313.0 L562.4,312.8 L561.3,312.7 L560.2,312.8 L559.0,313.0 L557.7,313.7 L556.3,314.9 L554.8,316.2 L553.3,317.3 L552.0,317.7 L551.0,317.0 L550.2,314.9 L549.6,311.8 L549.1,308.0 L548.8,303.9 L548.7,299.7 Z" fill="none" stroke="#fae4e4" stroke-width="1.4" stroke-linejoin="round"/>
<g transform="translate(560.7,283.7) rotate(-35)">
 <rect x="-10" y="-11" width="20" height="22" rx="6" fill="#f2d3e3" stroke="#8a4a6e" stroke-width="1.3"/>
 <path d="M0,-4 V4" stroke="#222" stroke-width="1.6"/>
</g>
<g transform="translate(583,269.6) rotate(-35)">
 <ellipse rx="12.5" ry="7.8" fill="#b9c5ea" stroke="#4a5a8a" stroke-width="1.3"/>
 <path d="M-1.6,-4 V4 M1.6,-4 V4" stroke="#222" stroke-width="1.4"/>
</g>
<g transform="translate(605.5,251) rotate(-25)">
 <rect x="-9.5" y="-13.5" width="19" height="27" rx="6" fill="#cdebf6" stroke="#2e6b78" stroke-width="1.4"/>
 <path d="M-3,-4 V4 M0,-4 V4 M3,-4 V4" stroke="#222" stroke-width="1.4"/>
</g>
<path d="M634,220.5 C638,220.5 641,224 644,229 C647,234 651,239 649.5,244 C647.5,248 640,248.5 633,248.5 C626,248.5 619.5,248 618.2,244 C617,240 621,234 624,229 C627,224 630,220.5 634,220.5 Z" fill="#f2d4f5" stroke="#7a3a8a" stroke-width="1.7"/>
<path d="M656.5,231 Q656.5,226.7 661,226.7 H668.5 Q673,226.7 673,231 L672,243 Q672,247.5 675.5,251 Q678,254 676,256.8 Q673,259 668.5,256.5 Q666.5,255 664.7,255 Q663,255 661,256.5 Q656.5,259 653.5,256.8 Q651.5,254 654,251 Q657.5,247.5 657.5,243 Z" fill="#d6d2f2" stroke="#3a3060" stroke-width="1.7"/>
<path d="M570,298 C572,306 580,310 587,308 C592,306 595,302 598,298" fill="none" stroke="#1c1c1c" stroke-width="0.9" marker-end="url(#ah)"/>
<path d="M623.3,280.5 L626.9,291.8 L635.6,285.2 L632.5,295.4 L645.5,292.3 L635.3,301.6 L647.4,308.3 L634.2,307.8 L637.5,314.0 L630.2,312.2 L629.9,323.0 L623.0,314.3 L617.6,317.5 L616.6,312.3 L604.9,320.2 L612.7,308.2 L601.5,307.9 L611.2,302.2 L599.2,294.6 L613.4,296.2 L609.2,285.6 L619.2,292.0 Z" fill="#cc3a44" stroke="#7e1c24" stroke-width="1" stroke-linejoin="miter"/>
<g fill="none" stroke="#a8826c" stroke-width="2.8">
 <path d="M696.3,279.6 A24,24 0 0 0 668.5,289.7" marker-end="url(#ahb)"/>
 <path d="M665.3,298.2 A24,24 0 0 0 674.1,321.3" marker-end="url(#ahb)"/>
 <path d="M681.5,325.2 A24,24 0 0 0 708.6,316.2" marker-end="url(#ahb)"/>
 <path d="M712.2,308.2 A24,24 0 0 0 703.7,283.5" marker-end="url(#ahb)"/>
</g>
<path d="M666.2,196 C652,202 644,209 650,215 C655,219.5 672,220.5 685,224 C697,228 700.5,238 700,252 L699.4,273.5" fill="none" stroke="#1c1c1c" stroke-width="1.6" marker-end="url(#ah2)"/>
<rect x="652.6" y="334.4" width="49" height="22.6" rx="11.3" fill="#d7e8f8" stroke="#3b5a7a" stroke-width="1.5"/>
<rect x="574.7" y="377.8" width="46.6" height="22.9" rx="11.4" fill="#d7e8f8" stroke="#3b5a7a" stroke-width="1.5"/>
<circle cx="572.7" cy="381.9" r="10.3" fill="#f2e21e" stroke="#c2ae10" stroke-width="1"/>
<path d="M615.2,377.8 L646.9,363.5" stroke="#1c1c1c" stroke-width="1.5" marker-end="url(#ah2)"/>
<path d="M596.4,423.8 V408.5" stroke="#1c1c1c" stroke-width="1.4" marker-end="url(#ah)"/>
<use href="#lnc" x="564" y="442.1" width="49.4" height="32"/>
<path d="M676.5,373.7 V416 M671.2,416 H682.2" stroke="#d8382e" stroke-width="1.5" fill="none"/>
<rect x="632.3" y="422.2" width="87.7" height="29.3" rx="3" fill="#c44d55" stroke="#7c2630" stroke-width="1.4"/>

<!-- ================= EMT ================= -->
<rect x="9" y="525.6" width="344" height="70" fill="#fefaf5"/>
<rect x="146.5" y="483" width="71.5" height="57" rx="5" fill="#f4dfb8" stroke="#866742" stroke-width="1.9"/>
<g fill="#f9e3c3"><rect x="18.7" y="551.5" width="1.9" height="9" rx="0.7"/><rect x="21.2" y="551.5" width="1.9" height="9" rx="0.7"/><rect x="23.8" y="551.5" width="1.9" height="9" rx="0.7"/><rect x="26.4" y="551.5" width="1.9" height="9" rx="0.7"/><rect x="28.9" y="551.5" width="1.9" height="9" rx="0.7"/><rect x="31.5" y="551.5" width="1.9" height="9" rx="0.7"/><rect x="34.0" y="551.5" width="1.9" height="9" rx="0.7"/><rect x="36.5" y="551.5" width="1.9" height="9" rx="0.7"/><rect x="39.1" y="551.5" width="1.9" height="9" rx="0.7"/><rect x="41.7" y="551.5" width="1.9" height="9" rx="0.7"/><rect x="44.2" y="551.5" width="1.9" height="9" rx="0.7"/><rect x="46.8" y="551.5" width="1.9" height="9" rx="0.7"/><rect x="49.3" y="551.5" width="1.9" height="9" rx="0.7"/><rect x="51.9" y="551.5" width="1.9" height="9" rx="0.7"/><rect x="54.4" y="551.5" width="1.9" height="9" rx="0.7"/><rect x="57.0" y="551.5" width="1.9" height="9" rx="0.7"/><rect x="59.5" y="551.5" width="1.9" height="9" rx="0.7"/><rect x="62.1" y="551.5" width="1.9" height="9" rx="0.7"/><rect x="64.7" y="551.5" width="1.9" height="9" rx="0.7"/><rect x="67.2" y="551.5" width="1.9" height="9" rx="0.7"/><rect x="69.8" y="551.5" width="1.9" height="9" rx="0.7"/><rect x="72.3" y="551.5" width="1.9" height="9" rx="0.7"/><rect x="74.9" y="551.5" width="1.9" height="9" rx="0.7"/><rect x="77.4" y="551.5" width="1.9" height="9" rx="0.7"/><rect x="80.0" y="551.5" width="1.9" height="9" rx="0.7"/><rect x="82.5" y="551.5" width="1.9" height="9" rx="0.7"/><rect x="85.1" y="551.5" width="1.9" height="9" rx="0.7"/></g>
<g stroke="#f1d6ae" stroke-width="0.8" fill="#fae6c7">
 <rect x="17.5" y="558.5" width="23" height="28" rx="2"/>
 <rect x="40.5" y="558.5" width="23" height="28" rx="2"/>
 <rect x="63.5" y="558.5" width="23" height="28" rx="2"/>
</g>
<g fill="#e9c596"><circle cx="29.8" cy="579.5" r="4.6"/><circle cx="53.1" cy="579.5" r="4.6"/><circle cx="76.4" cy="579.5" r="4.6"/></g>
<g fill="#6a5040"><ellipse cx="40.5" cy="565" rx="1" ry="0.8"/><ellipse cx="40.5" cy="568" rx="1" ry="0.8"/><ellipse cx="63.5" cy="565" rx="1" ry="0.8"/><ellipse cx="63.5" cy="568" rx="1" ry="0.8"/></g>
<g fill="#e67c7c" stroke="#cf6262" stroke-width="0.8">
 <path d="M264.5,573.5 C272,565 282,556 293,554 C301,553 307,553 311,553.4 C306,556 303,558 300,561 C294,566 282,571 264.5,573.5 Z"/>
 <path d="M303.3,564.1 C310,562 320,561 330,562.5 C340,565 346,572 351.8,578.9 C346,578.5 338,578 329,575 C320,572 310,567 303.3,564.1 Z"/>
 <path d="M276.1,583.6 C285,578 295,573.5 303,573.2 C312,573.5 320,578 327.9,582.8 C320,585 310,587 302,587 C292,587 283,585.5 276.1,583.6 Z"/>
</g>
<g fill="#d94e4e"><ellipse cx="289" cy="560.5" rx="4.6" ry="3.4" transform="rotate(-30 289 560.5)"/><ellipse cx="331.1" cy="569.8" rx="4.6" ry="3.2" transform="rotate(15 331.1 569.8)"/><ellipse cx="302.6" cy="580.6" rx="4.8" ry="3.2"/></g>
<path d="M117,567.9 H247.5" stroke="#1c1c1c" stroke-width="1.6" marker-end="url(#ah3)"/>
<path d="M247.5,576.2 H119" stroke="#1c1c1c" stroke-width="1.6" stroke-dasharray="5,4" marker-end="url(#ah3)"/>
<rect x="152.2" y="596.6" width="35.2" height="33.9" rx="4" fill="#f4dfb8" stroke="#866742" stroke-width="1.9"/>

<!-- ================= CELL CYCLE ================= -->
<path d="M434.9,549.9 L424.2,541.8 L410.4,542.9 A68.6,68.6 0 0 1 544.9,563.0 L531.8,567.6 L519.4,562.6 A43.1,43.1 0 0 0 434.9,549.9 Z" fill="#e3ecde"/>
<path d="M519.4,562.6 L531.8,567.6 L544.9,563.0 A68.6,68.6 0 0 1 472.7,630.3 L468.5,617.1 L474.0,604.8 A43.1,43.1 0 0 0 519.4,562.6 Z" fill="#cddfcb"/>
<path d="M474.0,604.8 L468.5,617.1 L472.7,630.3 A68.6,68.6 0 0 1 424.5,606.8 L431.1,594.6 L443.8,590.1 A43.1,43.1 0 0 0 474.0,604.8 Z" fill="#8eb685"/>
<path d="M443.8,590.1 L431.1,594.6 L424.5,606.8 A68.6,68.6 0 0 1 410.4,542.9 L424.2,541.8 L434.9,549.9 A43.1,43.1 0 0 0 443.8,590.1 Z" fill="#6b9763"/>

<path d="M432,492 C437,497 437,503 434.5,508.6" fill="none" stroke="#b8bcb8" stroke-width="3" stroke-linecap="round"/>
<path d="M504.9,487.3 C503,490 503.5,494 503.8,497.7" fill="none" stroke="#dde5da" stroke-width="3" stroke-linecap="round"/>
<path d="M398.3,502.4 C400,512 408,518 419,520" fill="none" stroke="#a8a8a8" stroke-width="1.2" stroke-dasharray="3,2.5" marker-end="url(#ahg)"/>
<path d="M437.6,494.2 L451,527.3" stroke="#333" stroke-width="1" stroke-dasharray="3,2.5"/>
<path d="M519.6,561.3 H554" stroke="#333" stroke-width="1" stroke-dasharray="3,2.5"/>
<path d="M426.4,613.3 L445.6,592.6" stroke="#2a4a2a" stroke-width="1" stroke-dasharray="3,2.5"/>
<rect x="420" y="474.1" width="60" height="16.9" rx="8.4" fill="#eef7e8" stroke="#3a7a3a" stroke-width="1.5"/>
<rect x="493.3" y="465.1" width="39.6" height="17.5" rx="8.7" fill="#e6f4df" stroke="#3a6a3a" stroke-width="1.5"/>
<rect x="554.8" y="553" width="33.8" height="17" rx="8.5" fill="#fdf0d6" stroke="#8a7050" stroke-width="1.5"/>
<rect x="388.4" y="614.3" width="39.1" height="17.1" rx="8.5" fill="#fdf4da" stroke="#7a6a40" stroke-width="1.5"/>

<text x="30.00" y="68.10" font-size="9.3" textLength="23.28" lengthAdjust="spacingAndGlyphs" class="r">GAS5</text>
<text x="30.90" y="86.20" font-size="9.3" textLength="55.02" lengthAdjust="spacingAndGlyphs">miR-196a-5p</text>
<text x="35.90" y="103.40" font-size="9.3" textLength="27.40" lengthAdjust="spacingAndGlyphs" class="r">FOXO1</text>
<text x="29.00" y="128.80" font-size="9.3" textLength="31.00" lengthAdjust="spacingAndGlyphs" class="r">PTENP1</text>
<text x="31.10" y="147.30" font-size="9.3" textLength="32.72" lengthAdjust="spacingAndGlyphs">miR-20a</text>
<text x="30.00" y="196.70" font-size="9.3" textLength="27.99" lengthAdjust="spacingAndGlyphs" class="r">PCAT6</text>
<text x="29.00" y="215.70" font-size="9.3" textLength="55.02" lengthAdjust="spacingAndGlyphs">miR-4723-5p</text>
<text x="30.00" y="233.00" font-size="9.3" textLength="33.62" lengthAdjust="spacingAndGlyphs" class="r">VEGER2</text>
<text x="25.60" y="263.00" font-size="9.3" textLength="28.59" lengthAdjust="spacingAndGlyphs" class="r">CCAT2</text>
<text x="26.60" y="281.90" font-size="9.3" textLength="49.91" lengthAdjust="spacingAndGlyphs">miR-145-5p</text>
<text x="114.20" y="34.30" font-size="10.2" textLength="20.10" lengthAdjust="spacingAndGlyphs">TKR</text>
<text x="85.90" y="173.30" font-size="10.7" textLength="26.62" lengthAdjust="spacingAndGlyphs">PTEN</text>
<text x="136.70" y="141.50" font-size="11" textLength="23.28" lengthAdjust="spacingAndGlyphs">PI3K</text>
<text x="137.90" y="196.50" font-size="11" textLength="20.50" lengthAdjust="spacingAndGlyphs">AKT</text>
<text x="133.90" y="248.40" font-size="11" textLength="31.12" lengthAdjust="spacingAndGlyphs">mTOR</text>
<text x="196.00" y="168.30" font-size="11" textLength="40.10" lengthAdjust="spacingAndGlyphs" class="r">LUCAT1</text>
<text x="188.50" y="236.70" font-size="11" textLength="68.72" lengthAdjust="spacingAndGlyphs">miR-5582-3p</text>
<text transform="translate(200.1,328.5) rotate(-90)" x="0.00" y="0.40" font-size="10.3" textLength="32.71" lengthAdjust="spacingAndGlyphs">mRNA</text>
<text transform="translate(210.2,328.5) rotate(-90)" x="0.00" y="0.40" font-size="10.3" textLength="60.28" lengthAdjust="spacingAndGlyphs">degradation</text>
<text x="254.30" y="110.40" font-size="10.9" textLength="58.82" lengthAdjust="spacingAndGlyphs" class="r">AFAP1-AS1</text>
<text x="314.90" y="34.60" font-size="10.9" textLength="20.30" lengthAdjust="spacingAndGlyphs">LRP</text>
<text x="367.30" y="30.40" font-size="10.9" textLength="19.68" lengthAdjust="spacingAndGlyphs">Wnt</text>
<text x="403.50" y="35.20" font-size="10.9" textLength="40.37" lengthAdjust="spacingAndGlyphs">Frizzled</text>
<text x="329.70" y="138.60" font-size="10.9" textLength="58.88" lengthAdjust="spacingAndGlyphs">Dishevelled</text>
<text x="385.00" y="189.40" font-size="11" textLength="22.41" lengthAdjust="spacingAndGlyphs">APC</text>
<text x="349.20" y="212.60" font-size="11" textLength="38.82" lengthAdjust="spacingAndGlyphs">GSK-3β</text>
<text x="417.00" y="211.40" font-size="11" textLength="23.52" lengthAdjust="spacingAndGlyphs">CKIα</text>
<text x="388.00" y="237.40" font-size="11" textLength="22.32" lengthAdjust="spacingAndGlyphs">Axin</text>
<text x="327.80" y="239.40" font-size="11" textLength="50.51" lengthAdjust="spacingAndGlyphs">β-Catenin</text>
<text x="238.40" y="345.20" font-size="11" textLength="48.61" lengthAdjust="spacingAndGlyphs">β-Catenin</text>
<text x="225.40" y="370.70" font-size="11" textLength="38.02" lengthAdjust="spacingAndGlyphs">TCF7L2</text>
<text x="283.70" y="369.30" font-size="11" textLength="24.60" lengthAdjust="spacingAndGlyphs">TCF4</text>
<text x="341.70" y="373.80" font-size="11" textLength="34.30" lengthAdjust="spacingAndGlyphs">PDBP1</text>
<text x="342.60" y="327.90" font-size="10.9" textLength="39.79" lengthAdjust="spacingAndGlyphs" class="r">DIO3OS</text>
<text x="199.80" y="444.70" font-size="10.9" textLength="167.68" lengthAdjust="spacingAndGlyphs" class="w">BC  cell proliferation, metastasis,</text>
<text x="193.60" y="457.40" font-size="10.9" textLength="178.19" lengthAdjust="spacingAndGlyphs" class="w">therapy resistance, BCSC stemness</text>
<text x="455.70" y="428.00" font-size="24.5" textLength="12.04" lengthAdjust="spacingAndGlyphs" class="n" style="fill:#222;stroke:#222;stroke-width:0.25px">S</text>
<text x="467.90" y="22.10" font-size="10.9" textLength="37.22" lengthAdjust="spacingAndGlyphs">Lactate</text>
<text x="525.80" y="64.20" font-size="10.9" textLength="22.81" lengthAdjust="spacingAndGlyphs">MCT</text>
<text x="543.20" y="33.50" font-size="12" textLength="79.90" lengthAdjust="spacingAndGlyphs" style="fill:#e8923a;stroke:#e8923a">Warburg Effect</text>
<text x="653.50" y="24.50" font-size="10.9" textLength="40.51" lengthAdjust="spacingAndGlyphs">Glucose</text>
<text x="658.40" y="63.50" font-size="10.9" textLength="27.12" lengthAdjust="spacingAndGlyphs">GLUT</text>
<text x="629.70" y="80.10" font-size="10.9" textLength="42.30" lengthAdjust="spacingAndGlyphs">1,3-BPG</text>
<text x="538.20" y="105.60" font-size="11" textLength="72.82" lengthAdjust="spacingAndGlyphs" class="w">BC metastsis ,</text>
<text x="535.50" y="117.60" font-size="11" textLength="77.53" lengthAdjust="spacingAndGlyphs" class="w">drug resistance</text>
<text x="634.90" y="138.70" font-size="10.9" textLength="24.78" lengthAdjust="spacingAndGlyphs">3-BP</text>
<text x="657.20" y="103.10" font-size="10.9" textLength="26.68" lengthAdjust="spacingAndGlyphs">PGK1</text>
<text x="709.70" y="78.50" font-size="11" textLength="57.09" lengthAdjust="spacingAndGlyphs" class="r">LINC00926</text>
<text x="540.70" y="162.10" font-size="10.9" textLength="22.82" lengthAdjust="spacingAndGlyphs">NAD</text>
<text x="563.60" y="157.90" font-size="6.5" textLength="3.49" lengthAdjust="spacingAndGlyphs">+</text>
<text x="584.20" y="162.10" font-size="10.9" textLength="44.09" lengthAdjust="spacingAndGlyphs">NADH/H</text>
<text x="627.20" y="157.90" font-size="6.5" textLength="3.49" lengthAdjust="spacingAndGlyphs">+</text>
<text x="499.30" y="192.10" font-size="10.9" textLength="37.92" lengthAdjust="spacingAndGlyphs">Lactate</text>
<text x="629.50" y="191.60" font-size="10.9" textLength="45.50" lengthAdjust="spacingAndGlyphs">Pyruvate</text>
<text x="578.00" y="207.10" font-size="10.9" textLength="27.92" lengthAdjust="spacingAndGlyphs">LDHA</text>
<text x="445.20" y="261.20" font-size="10" textLength="89.00" lengthAdjust="spacingAndGlyphs">mRNA stabilization</text>
<text x="453.60" y="355.40" font-size="11" textLength="56.93" lengthAdjust="spacingAndGlyphs" class="r">SAMMSON</text>
<text x="622.40" y="241.30" font-size="10" textLength="24.90" lengthAdjust="spacingAndGlyphs">Cyt c</text>
<text x="659.50" y="249.60" font-size="10.7" textLength="9.50" lengthAdjust="spacingAndGlyphs">IV</text>
<text x="611.50" y="306.80" font-size="10.3" textLength="21.72" lengthAdjust="spacingAndGlyphs" class="w">ROS</text>
<text x="679.80" y="301.70" font-size="11.3" textLength="20.90" lengthAdjust="spacingAndGlyphs" style="fill:#8e6a5a;stroke:#8e6a5a">TCA</text>
<text x="677.60" y="313.80" font-size="11.3" textLength="26.39" lengthAdjust="spacingAndGlyphs" style="fill:#8e6a5a;stroke:#8e6a5a">Cycle</text>
<text x="665.00" y="349.90" font-size="10.9" textLength="25.30" lengthAdjust="spacingAndGlyphs">Bcl-2</text>
<text x="582.90" y="393.10" font-size="10.9" textLength="31.29" lengthAdjust="spacingAndGlyphs">STAT3</text>
<text x="568.50" y="386.90" font-size="15" textLength="8.02" lengthAdjust="spacingAndGlyphs" class="n">p</text>
<text x="581.50" y="439.50" font-size="11" textLength="14.89" lengthAdjust="spacingAndGlyphs" class="r">DC</text>
<text x="659.20" y="435.00" font-size="11" textLength="35.00" lengthAdjust="spacingAndGlyphs" class="w">BC cell</text>
<text x="651.30" y="447.90" font-size="11" textLength="50.29" lengthAdjust="spacingAndGlyphs" class="w">Apoptosis</text>
<text x="164.70" y="497.00" font-size="11.5" textLength="38.39" lengthAdjust="spacingAndGlyphs" class="r">HOTAIR</text>
<text x="171.00" y="509.60" font-size="11.5" textLength="20.39" lengthAdjust="spacingAndGlyphs" class="r">H19</text>
<text x="159.50" y="521.80" font-size="11.5" textLength="46.21" lengthAdjust="spacingAndGlyphs" class="r">Linc-ROR</text>
<text x="155.30" y="534.40" font-size="11.5" textLength="53.02" lengthAdjust="spacingAndGlyphs" class="r">MAFG-AS1</text>
<text x="33.80" y="537.90" font-size="8.6" textLength="36.10" lengthAdjust="spacingAndGlyphs" style="fill:#333;stroke:#333">Epithelial</text>
<text x="279.20" y="537.70" font-size="8.6" textLength="55.39" lengthAdjust="spacingAndGlyphs" style="fill:#333;stroke:#333">Mesenchymal</text>
<text x="124.80" y="556.50" font-size="10" textLength="18.51" lengthAdjust="spacingAndGlyphs" style="fill:#333;stroke:#333">EMT</text>
<text x="145.50" y="556.50" font-size="10" textLength="92.29" lengthAdjust="spacingAndGlyphs" class="n" style="fill:#444;stroke:#444">(Extravasation process)</text>
<text x="126.10" y="593.10" font-size="10" textLength="18.51" lengthAdjust="spacingAndGlyphs" style="fill:#333;stroke:#333">MET</text>
<text x="147.00" y="593.10" font-size="10" textLength="89.51" lengthAdjust="spacingAndGlyphs" class="n" style="fill:#444;stroke:#444">(Intravasation process)</text>
<text x="158.00" y="616.60" font-size="12.5" textLength="20.29" lengthAdjust="spacingAndGlyphs" class="r">H19</text>
<text x="369.30" y="488.30" font-size="9.3" textLength="6.48" lengthAdjust="spacingAndGlyphs" style="fill:#333;stroke:#333">G</text>
<text x="375.80" y="489.60" font-size="5.5" textLength="3.01" lengthAdjust="spacingAndGlyphs" style="fill:#333;stroke:#333">0</text>
<text x="380.30" y="488.30" font-size="9.3" textLength="26.30" lengthAdjust="spacingAndGlyphs" style="fill:#333;stroke:#333">phase</text>
<text x="370.00" y="499.30" font-size="9.3" textLength="36.00" lengthAdjust="spacingAndGlyphs" style="fill:#333;stroke:#333">(resting)</text>
<text x="425.20" y="486.30" font-size="10.9" textLength="51.12" lengthAdjust="spacingAndGlyphs" class="r">Linc00963</text>
<text x="499.70" y="478.10" font-size="10.9" textLength="27.58" lengthAdjust="spacingAndGlyphs" class="r">CDC6</text>
<text x="562.40" y="565.40" font-size="10.9" textLength="19.20" lengthAdjust="spacingAndGlyphs" class="r">H19</text>
<text x="395.70" y="626.80" font-size="10.9" textLength="26.58" lengthAdjust="spacingAndGlyphs" class="r">GAS5</text>
<text x="470.50" y="511.90" font-size="10.9" textLength="6.98" lengthAdjust="spacingAndGlyphs">G</text>
<text x="478.00" y="513.90" font-size="6" textLength="3.01" lengthAdjust="spacingAndGlyphs">1</text>
<text x="510.00" y="607.40" font-size="10.3" textLength="6.42" lengthAdjust="spacingAndGlyphs">S</text>
<text x="445.70" y="614.90" font-size="10.3" textLength="6.68" lengthAdjust="spacingAndGlyphs">G</text>
<text x="452.70" y="616.40" font-size="6" textLength="4.01" lengthAdjust="spacingAndGlyphs">2</text>
<text x="416.50" y="578.00" font-size="10.9" textLength="8.98" lengthAdjust="spacingAndGlyphs">M</text>
<text x="468.10" y="561.80" font-size="11.3" textLength="19.89" lengthAdjust="spacingAndGlyphs" style="fill:#50704a;stroke:#50704a">Cell</text>
<text x="463.60" y="574.50" font-size="11.3" textLength="28.88" lengthAdjust="spacingAndGlyphs" style="fill:#50704a;stroke:#50704a">Cycle</text>
</svg>
</body></html>
